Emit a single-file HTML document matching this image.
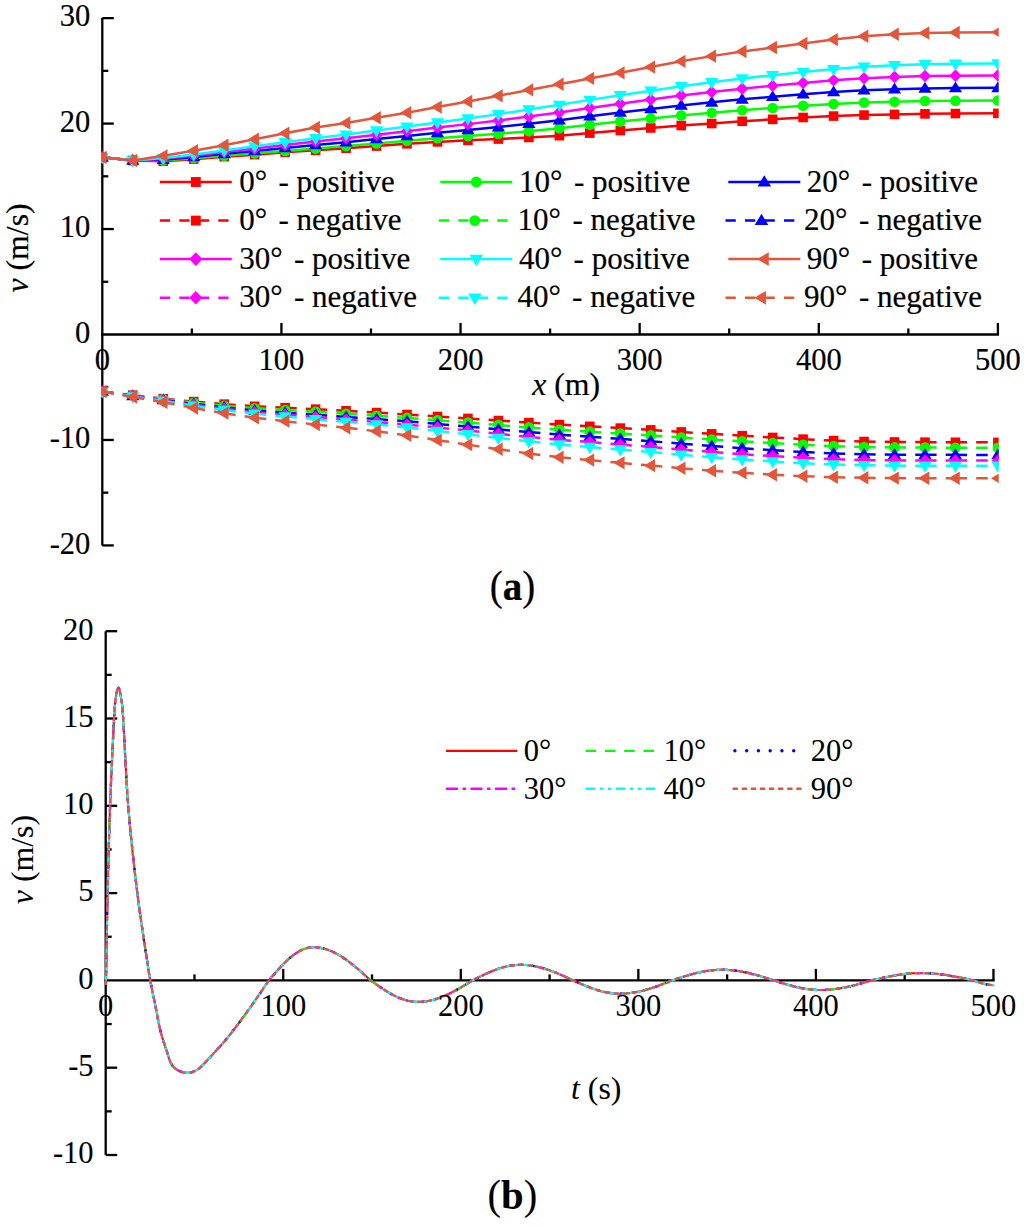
<!DOCTYPE html><html><head><meta charset="utf-8"><title>v plots</title><style>html,body{margin:0;padding:0;background:#fff;width:1024px;height:1229px;overflow:hidden}svg{display:block}text{stroke:#000;stroke-width:0.2px}text.b{stroke-width:0.05px}</style></head><body><svg width="1024" height="1229" viewBox="0 0 1024 1229" font-family='"Liberation Serif", serif'>
<rect width="1024" height="1229" fill="#fff"/>
<defs><clipPath id="ca"><rect x="101.10" y="0" width="897.60" height="1229"/></clipPath><clipPath id="cb"><rect x="104.50" y="0" width="889.95" height="1229"/></clipPath></defs>
<line x1="102.30" y1="18.07" x2="102.30" y2="545.47" stroke="#000" stroke-width="2.3" />
<line x1="101.15" y1="334.50" x2="999.05" y2="334.50" stroke="#000" stroke-width="2.3" />
<line x1="102.30" y1="545.42" x2="113.80" y2="545.42" stroke="#000" stroke-width="2.3" />
<line x1="102.30" y1="492.69" x2="108.30" y2="492.69" stroke="#000" stroke-width="2.3" />
<line x1="102.30" y1="439.96" x2="113.80" y2="439.96" stroke="#000" stroke-width="2.3" />
<line x1="102.30" y1="387.23" x2="108.30" y2="387.23" stroke="#000" stroke-width="2.3" />
<line x1="102.30" y1="281.77" x2="108.30" y2="281.77" stroke="#000" stroke-width="2.3" />
<line x1="102.30" y1="229.04" x2="113.80" y2="229.04" stroke="#000" stroke-width="2.3" />
<line x1="102.30" y1="176.31" x2="108.30" y2="176.31" stroke="#000" stroke-width="2.3" />
<line x1="102.30" y1="123.58" x2="113.80" y2="123.58" stroke="#000" stroke-width="2.3" />
<line x1="102.30" y1="70.85" x2="108.30" y2="70.85" stroke="#000" stroke-width="2.3" />
<line x1="102.30" y1="18.12" x2="113.80" y2="18.12" stroke="#000" stroke-width="2.3" />
<line x1="191.86" y1="334.50" x2="191.86" y2="328.50" stroke="#000" stroke-width="2.3" />
<line x1="281.42" y1="334.50" x2="281.42" y2="323.00" stroke="#000" stroke-width="2.3" />
<line x1="370.98" y1="334.50" x2="370.98" y2="328.50" stroke="#000" stroke-width="2.3" />
<line x1="460.54" y1="334.50" x2="460.54" y2="323.00" stroke="#000" stroke-width="2.3" />
<line x1="550.10" y1="334.50" x2="550.10" y2="328.50" stroke="#000" stroke-width="2.3" />
<line x1="639.66" y1="334.50" x2="639.66" y2="323.00" stroke="#000" stroke-width="2.3" />
<line x1="729.22" y1="334.50" x2="729.22" y2="328.50" stroke="#000" stroke-width="2.3" />
<line x1="818.78" y1="334.50" x2="818.78" y2="323.00" stroke="#000" stroke-width="2.3" />
<line x1="908.34" y1="334.50" x2="908.34" y2="328.50" stroke="#000" stroke-width="2.3" />
<line x1="997.90" y1="334.50" x2="997.90" y2="323.00" stroke="#000" stroke-width="2.3" />
<g clip-path="url(#ca)">
<polyline points="102.30,157.33 132.77,160.49 163.24,161.26 193.71,159.13 224.18,156.66 254.65,154.64 285.12,152.33 315.59,150.34 346.06,148.21 376.53,146.06 407.00,143.82 437.47,141.89 467.94,140.36 498.41,139.03 528.88,137.47 559.35,135.64 589.82,133.11 620.29,130.54 650.76,127.95 681.23,125.52 711.70,123.54 742.17,121.27 772.64,119.33 803.11,117.50 833.58,116.07 864.05,115.08 894.52,114.39 924.99,113.87 955.46,113.56 997.90,113.35" fill="none" stroke="#ff0000" stroke-width="2.5" stroke-linejoin="round"/>
<rect x="97.50" y="152.53" width="9.60" height="9.60" fill="#ff0000"/>
<rect x="127.97" y="155.69" width="9.60" height="9.60" fill="#ff0000"/>
<rect x="158.44" y="156.46" width="9.60" height="9.60" fill="#ff0000"/>
<rect x="188.91" y="154.33" width="9.60" height="9.60" fill="#ff0000"/>
<rect x="219.38" y="151.86" width="9.60" height="9.60" fill="#ff0000"/>
<rect x="249.85" y="149.84" width="9.60" height="9.60" fill="#ff0000"/>
<rect x="280.32" y="147.53" width="9.60" height="9.60" fill="#ff0000"/>
<rect x="310.79" y="145.54" width="9.60" height="9.60" fill="#ff0000"/>
<rect x="341.26" y="143.41" width="9.60" height="9.60" fill="#ff0000"/>
<rect x="371.73" y="141.26" width="9.60" height="9.60" fill="#ff0000"/>
<rect x="402.20" y="139.02" width="9.60" height="9.60" fill="#ff0000"/>
<rect x="432.67" y="137.09" width="9.60" height="9.60" fill="#ff0000"/>
<rect x="463.14" y="135.56" width="9.60" height="9.60" fill="#ff0000"/>
<rect x="493.61" y="134.23" width="9.60" height="9.60" fill="#ff0000"/>
<rect x="524.08" y="132.67" width="9.60" height="9.60" fill="#ff0000"/>
<rect x="554.55" y="130.84" width="9.60" height="9.60" fill="#ff0000"/>
<rect x="585.02" y="128.31" width="9.60" height="9.60" fill="#ff0000"/>
<rect x="615.49" y="125.74" width="9.60" height="9.60" fill="#ff0000"/>
<rect x="645.96" y="123.15" width="9.60" height="9.60" fill="#ff0000"/>
<rect x="676.43" y="120.72" width="9.60" height="9.60" fill="#ff0000"/>
<rect x="706.90" y="118.74" width="9.60" height="9.60" fill="#ff0000"/>
<rect x="737.37" y="116.47" width="9.60" height="9.60" fill="#ff0000"/>
<rect x="767.84" y="114.53" width="9.60" height="9.60" fill="#ff0000"/>
<rect x="798.31" y="112.70" width="9.60" height="9.60" fill="#ff0000"/>
<rect x="828.78" y="111.27" width="9.60" height="9.60" fill="#ff0000"/>
<rect x="859.25" y="110.28" width="9.60" height="9.60" fill="#ff0000"/>
<rect x="889.72" y="109.59" width="9.60" height="9.60" fill="#ff0000"/>
<rect x="920.19" y="109.07" width="9.60" height="9.60" fill="#ff0000"/>
<rect x="950.66" y="108.76" width="9.60" height="9.60" fill="#ff0000"/>
<rect x="993.10" y="108.55" width="9.60" height="9.60" fill="#ff0000"/>
<line x1="102.30" y1="391.55" x2="132.77" y2="395.14" stroke="#ff0000" stroke-width="2.5" stroke-dasharray="11.6 9.1"/>
<line x1="132.77" y1="395.14" x2="163.24" y2="398.72" stroke="#ff0000" stroke-width="2.5" stroke-dasharray="11.6 9.1"/>
<line x1="163.24" y1="398.72" x2="193.71" y2="401.56" stroke="#ff0000" stroke-width="2.5" stroke-dasharray="11.6 9.1"/>
<line x1="193.71" y1="401.56" x2="224.18" y2="404.14" stroke="#ff0000" stroke-width="2.5" stroke-dasharray="11.6 9.1"/>
<line x1="224.18" y1="404.14" x2="254.65" y2="406.31" stroke="#ff0000" stroke-width="2.5" stroke-dasharray="11.6 9.1"/>
<line x1="254.65" y1="406.31" x2="285.12" y2="407.68" stroke="#ff0000" stroke-width="2.5" stroke-dasharray="11.6 9.1"/>
<line x1="285.12" y1="407.68" x2="315.59" y2="409.16" stroke="#ff0000" stroke-width="2.5" stroke-dasharray="11.6 9.1"/>
<line x1="315.59" y1="409.16" x2="346.06" y2="410.74" stroke="#ff0000" stroke-width="2.5" stroke-dasharray="11.6 9.1"/>
<line x1="346.06" y1="410.74" x2="376.53" y2="412.57" stroke="#ff0000" stroke-width="2.5" stroke-dasharray="11.6 9.1"/>
<line x1="376.53" y1="412.57" x2="407.00" y2="414.50" stroke="#ff0000" stroke-width="2.5" stroke-dasharray="11.6 9.1"/>
<line x1="407.00" y1="414.50" x2="437.47" y2="416.51" stroke="#ff0000" stroke-width="2.5" stroke-dasharray="11.6 9.1"/>
<line x1="437.47" y1="416.51" x2="467.94" y2="418.43" stroke="#ff0000" stroke-width="2.5" stroke-dasharray="11.6 9.1"/>
<line x1="467.94" y1="418.43" x2="498.41" y2="420.55" stroke="#ff0000" stroke-width="2.5" stroke-dasharray="11.6 9.1"/>
<line x1="498.41" y1="420.55" x2="528.88" y2="422.61" stroke="#ff0000" stroke-width="2.5" stroke-dasharray="11.6 9.1"/>
<line x1="528.88" y1="422.61" x2="559.35" y2="424.62" stroke="#ff0000" stroke-width="2.5" stroke-dasharray="11.6 9.1"/>
<line x1="559.35" y1="424.62" x2="589.82" y2="426.36" stroke="#ff0000" stroke-width="2.5" stroke-dasharray="11.6 9.1"/>
<line x1="589.82" y1="426.36" x2="620.29" y2="428.12" stroke="#ff0000" stroke-width="2.5" stroke-dasharray="11.6 9.1"/>
<line x1="620.29" y1="428.12" x2="650.76" y2="429.89" stroke="#ff0000" stroke-width="2.5" stroke-dasharray="11.6 9.1"/>
<line x1="650.76" y1="429.89" x2="681.23" y2="431.94" stroke="#ff0000" stroke-width="2.5" stroke-dasharray="11.6 9.1"/>
<line x1="681.23" y1="431.94" x2="711.70" y2="433.87" stroke="#ff0000" stroke-width="2.5" stroke-dasharray="11.6 9.1"/>
<line x1="711.70" y1="433.87" x2="742.17" y2="435.67" stroke="#ff0000" stroke-width="2.5" stroke-dasharray="11.6 9.1"/>
<line x1="742.17" y1="435.67" x2="772.64" y2="437.45" stroke="#ff0000" stroke-width="2.5" stroke-dasharray="11.6 9.1"/>
<line x1="772.64" y1="437.45" x2="803.11" y2="439.15" stroke="#ff0000" stroke-width="2.5" stroke-dasharray="11.6 9.1"/>
<line x1="803.11" y1="439.15" x2="833.58" y2="440.61" stroke="#ff0000" stroke-width="2.5" stroke-dasharray="11.6 9.1"/>
<line x1="833.58" y1="440.61" x2="864.05" y2="441.54" stroke="#ff0000" stroke-width="2.5" stroke-dasharray="11.6 9.1"/>
<line x1="864.05" y1="441.54" x2="894.52" y2="441.96" stroke="#ff0000" stroke-width="2.5" stroke-dasharray="11.6 9.1"/>
<line x1="894.52" y1="441.96" x2="924.99" y2="442.17" stroke="#ff0000" stroke-width="2.5" stroke-dasharray="11.6 9.1"/>
<line x1="924.99" y1="442.17" x2="955.46" y2="442.28" stroke="#ff0000" stroke-width="2.5" stroke-dasharray="11.6 9.1"/>
<line x1="955.46" y1="442.28" x2="997.90" y2="442.39" stroke="#ff0000" stroke-width="2.5" stroke-dasharray="11.6 9.1"/>
<rect x="97.50" y="386.75" width="9.60" height="9.60" fill="#ff0000"/>
<rect x="127.97" y="390.34" width="9.60" height="9.60" fill="#ff0000"/>
<rect x="158.44" y="393.92" width="9.60" height="9.60" fill="#ff0000"/>
<rect x="188.91" y="396.76" width="9.60" height="9.60" fill="#ff0000"/>
<rect x="219.38" y="399.34" width="9.60" height="9.60" fill="#ff0000"/>
<rect x="249.85" y="401.51" width="9.60" height="9.60" fill="#ff0000"/>
<rect x="280.32" y="402.88" width="9.60" height="9.60" fill="#ff0000"/>
<rect x="310.79" y="404.36" width="9.60" height="9.60" fill="#ff0000"/>
<rect x="341.26" y="405.94" width="9.60" height="9.60" fill="#ff0000"/>
<rect x="371.73" y="407.77" width="9.60" height="9.60" fill="#ff0000"/>
<rect x="402.20" y="409.70" width="9.60" height="9.60" fill="#ff0000"/>
<rect x="432.67" y="411.71" width="9.60" height="9.60" fill="#ff0000"/>
<rect x="463.14" y="413.63" width="9.60" height="9.60" fill="#ff0000"/>
<rect x="493.61" y="415.75" width="9.60" height="9.60" fill="#ff0000"/>
<rect x="524.08" y="417.81" width="9.60" height="9.60" fill="#ff0000"/>
<rect x="554.55" y="419.82" width="9.60" height="9.60" fill="#ff0000"/>
<rect x="585.02" y="421.56" width="9.60" height="9.60" fill="#ff0000"/>
<rect x="615.49" y="423.32" width="9.60" height="9.60" fill="#ff0000"/>
<rect x="645.96" y="425.09" width="9.60" height="9.60" fill="#ff0000"/>
<rect x="676.43" y="427.14" width="9.60" height="9.60" fill="#ff0000"/>
<rect x="706.90" y="429.07" width="9.60" height="9.60" fill="#ff0000"/>
<rect x="737.37" y="430.87" width="9.60" height="9.60" fill="#ff0000"/>
<rect x="767.84" y="432.65" width="9.60" height="9.60" fill="#ff0000"/>
<rect x="798.31" y="434.35" width="9.60" height="9.60" fill="#ff0000"/>
<rect x="828.78" y="435.81" width="9.60" height="9.60" fill="#ff0000"/>
<rect x="859.25" y="436.74" width="9.60" height="9.60" fill="#ff0000"/>
<rect x="889.72" y="437.16" width="9.60" height="9.60" fill="#ff0000"/>
<rect x="920.19" y="437.37" width="9.60" height="9.60" fill="#ff0000"/>
<rect x="950.66" y="437.48" width="9.60" height="9.60" fill="#ff0000"/>
<rect x="993.10" y="437.59" width="9.60" height="9.60" fill="#ff0000"/>
<polyline points="102.30,157.33 132.77,160.49 163.24,160.55 193.71,158.28 224.18,155.64 254.65,153.35 285.12,150.95 315.59,148.62 346.06,146.11 376.53,143.46 407.00,140.78 437.47,138.27 467.94,136.11 498.41,133.82 528.88,131.15 559.35,128.28 589.82,124.80 620.29,121.57 650.76,118.41 681.23,115.39 711.70,112.87 742.17,110.21 772.64,107.96 803.11,105.77 833.58,103.95 864.05,102.59 894.52,101.68 924.99,101.06 955.46,100.71 997.90,100.48" fill="none" stroke="#00ff00" stroke-width="2.5" stroke-linejoin="round"/>
<circle cx="102.30" cy="157.33" r="5.30" fill="#00ff00"/>
<circle cx="132.77" cy="160.49" r="5.30" fill="#00ff00"/>
<circle cx="163.24" cy="160.55" r="5.30" fill="#00ff00"/>
<circle cx="193.71" cy="158.28" r="5.30" fill="#00ff00"/>
<circle cx="224.18" cy="155.64" r="5.30" fill="#00ff00"/>
<circle cx="254.65" cy="153.35" r="5.30" fill="#00ff00"/>
<circle cx="285.12" cy="150.95" r="5.30" fill="#00ff00"/>
<circle cx="315.59" cy="148.62" r="5.30" fill="#00ff00"/>
<circle cx="346.06" cy="146.11" r="5.30" fill="#00ff00"/>
<circle cx="376.53" cy="143.46" r="5.30" fill="#00ff00"/>
<circle cx="407.00" cy="140.78" r="5.30" fill="#00ff00"/>
<circle cx="437.47" cy="138.27" r="5.30" fill="#00ff00"/>
<circle cx="467.94" cy="136.11" r="5.30" fill="#00ff00"/>
<circle cx="498.41" cy="133.82" r="5.30" fill="#00ff00"/>
<circle cx="528.88" cy="131.15" r="5.30" fill="#00ff00"/>
<circle cx="559.35" cy="128.28" r="5.30" fill="#00ff00"/>
<circle cx="589.82" cy="124.80" r="5.30" fill="#00ff00"/>
<circle cx="620.29" cy="121.57" r="5.30" fill="#00ff00"/>
<circle cx="650.76" cy="118.41" r="5.30" fill="#00ff00"/>
<circle cx="681.23" cy="115.39" r="5.30" fill="#00ff00"/>
<circle cx="711.70" cy="112.87" r="5.30" fill="#00ff00"/>
<circle cx="742.17" cy="110.21" r="5.30" fill="#00ff00"/>
<circle cx="772.64" cy="107.96" r="5.30" fill="#00ff00"/>
<circle cx="803.11" cy="105.77" r="5.30" fill="#00ff00"/>
<circle cx="833.58" cy="103.95" r="5.30" fill="#00ff00"/>
<circle cx="864.05" cy="102.59" r="5.30" fill="#00ff00"/>
<circle cx="894.52" cy="101.68" r="5.30" fill="#00ff00"/>
<circle cx="924.99" cy="101.06" r="5.30" fill="#00ff00"/>
<circle cx="955.46" cy="100.71" r="5.30" fill="#00ff00"/>
<circle cx="997.90" cy="100.48" r="5.30" fill="#00ff00"/>
<line x1="102.30" y1="391.55" x2="132.77" y2="395.47" stroke="#00ff00" stroke-width="2.5" stroke-dasharray="11.6 9.1"/>
<line x1="132.77" y1="395.47" x2="163.24" y2="399.33" stroke="#00ff00" stroke-width="2.5" stroke-dasharray="11.6 9.1"/>
<line x1="163.24" y1="399.33" x2="193.71" y2="402.69" stroke="#00ff00" stroke-width="2.5" stroke-dasharray="11.6 9.1"/>
<line x1="193.71" y1="402.69" x2="224.18" y2="405.73" stroke="#00ff00" stroke-width="2.5" stroke-dasharray="11.6 9.1"/>
<line x1="224.18" y1="405.73" x2="254.65" y2="408.33" stroke="#00ff00" stroke-width="2.5" stroke-dasharray="11.6 9.1"/>
<line x1="254.65" y1="408.33" x2="285.12" y2="410.05" stroke="#00ff00" stroke-width="2.5" stroke-dasharray="11.6 9.1"/>
<line x1="285.12" y1="410.05" x2="315.59" y2="411.84" stroke="#00ff00" stroke-width="2.5" stroke-dasharray="11.6 9.1"/>
<line x1="315.59" y1="411.84" x2="346.06" y2="413.72" stroke="#00ff00" stroke-width="2.5" stroke-dasharray="11.6 9.1"/>
<line x1="346.06" y1="413.72" x2="376.53" y2="415.75" stroke="#00ff00" stroke-width="2.5" stroke-dasharray="11.6 9.1"/>
<line x1="376.53" y1="415.75" x2="407.00" y2="417.92" stroke="#00ff00" stroke-width="2.5" stroke-dasharray="11.6 9.1"/>
<line x1="407.00" y1="417.92" x2="437.47" y2="420.27" stroke="#00ff00" stroke-width="2.5" stroke-dasharray="11.6 9.1"/>
<line x1="437.47" y1="420.27" x2="467.94" y2="422.52" stroke="#00ff00" stroke-width="2.5" stroke-dasharray="11.6 9.1"/>
<line x1="467.94" y1="422.52" x2="498.41" y2="424.98" stroke="#00ff00" stroke-width="2.5" stroke-dasharray="11.6 9.1"/>
<line x1="498.41" y1="424.98" x2="528.88" y2="427.42" stroke="#00ff00" stroke-width="2.5" stroke-dasharray="11.6 9.1"/>
<line x1="528.88" y1="427.42" x2="559.35" y2="429.72" stroke="#00ff00" stroke-width="2.5" stroke-dasharray="11.6 9.1"/>
<line x1="559.35" y1="429.72" x2="589.82" y2="431.66" stroke="#00ff00" stroke-width="2.5" stroke-dasharray="11.6 9.1"/>
<line x1="589.82" y1="431.66" x2="620.29" y2="433.54" stroke="#00ff00" stroke-width="2.5" stroke-dasharray="11.6 9.1"/>
<line x1="620.29" y1="433.54" x2="650.76" y2="435.41" stroke="#00ff00" stroke-width="2.5" stroke-dasharray="11.6 9.1"/>
<line x1="650.76" y1="435.41" x2="681.23" y2="437.49" stroke="#00ff00" stroke-width="2.5" stroke-dasharray="11.6 9.1"/>
<line x1="681.23" y1="437.49" x2="711.70" y2="439.47" stroke="#00ff00" stroke-width="2.5" stroke-dasharray="11.6 9.1"/>
<line x1="711.70" y1="439.47" x2="742.17" y2="441.33" stroke="#00ff00" stroke-width="2.5" stroke-dasharray="11.6 9.1"/>
<line x1="742.17" y1="441.33" x2="772.64" y2="443.11" stroke="#00ff00" stroke-width="2.5" stroke-dasharray="11.6 9.1"/>
<line x1="772.64" y1="443.11" x2="803.11" y2="444.76" stroke="#00ff00" stroke-width="2.5" stroke-dasharray="11.6 9.1"/>
<line x1="803.11" y1="444.76" x2="833.58" y2="446.13" stroke="#00ff00" stroke-width="2.5" stroke-dasharray="11.6 9.1"/>
<line x1="833.58" y1="446.13" x2="864.05" y2="447.00" stroke="#00ff00" stroke-width="2.5" stroke-dasharray="11.6 9.1"/>
<line x1="864.05" y1="447.00" x2="894.52" y2="447.39" stroke="#00ff00" stroke-width="2.5" stroke-dasharray="11.6 9.1"/>
<line x1="894.52" y1="447.39" x2="924.99" y2="447.59" stroke="#00ff00" stroke-width="2.5" stroke-dasharray="11.6 9.1"/>
<line x1="924.99" y1="447.59" x2="955.46" y2="447.68" stroke="#00ff00" stroke-width="2.5" stroke-dasharray="11.6 9.1"/>
<line x1="955.46" y1="447.68" x2="997.90" y2="447.76" stroke="#00ff00" stroke-width="2.5" stroke-dasharray="11.6 9.1"/>
<circle cx="102.30" cy="391.55" r="5.30" fill="#00ff00"/>
<circle cx="132.77" cy="395.47" r="5.30" fill="#00ff00"/>
<circle cx="163.24" cy="399.33" r="5.30" fill="#00ff00"/>
<circle cx="193.71" cy="402.69" r="5.30" fill="#00ff00"/>
<circle cx="224.18" cy="405.73" r="5.30" fill="#00ff00"/>
<circle cx="254.65" cy="408.33" r="5.30" fill="#00ff00"/>
<circle cx="285.12" cy="410.05" r="5.30" fill="#00ff00"/>
<circle cx="315.59" cy="411.84" r="5.30" fill="#00ff00"/>
<circle cx="346.06" cy="413.72" r="5.30" fill="#00ff00"/>
<circle cx="376.53" cy="415.75" r="5.30" fill="#00ff00"/>
<circle cx="407.00" cy="417.92" r="5.30" fill="#00ff00"/>
<circle cx="437.47" cy="420.27" r="5.30" fill="#00ff00"/>
<circle cx="467.94" cy="422.52" r="5.30" fill="#00ff00"/>
<circle cx="498.41" cy="424.98" r="5.30" fill="#00ff00"/>
<circle cx="528.88" cy="427.42" r="5.30" fill="#00ff00"/>
<circle cx="559.35" cy="429.72" r="5.30" fill="#00ff00"/>
<circle cx="589.82" cy="431.66" r="5.30" fill="#00ff00"/>
<circle cx="620.29" cy="433.54" r="5.30" fill="#00ff00"/>
<circle cx="650.76" cy="435.41" r="5.30" fill="#00ff00"/>
<circle cx="681.23" cy="437.49" r="5.30" fill="#00ff00"/>
<circle cx="711.70" cy="439.47" r="5.30" fill="#00ff00"/>
<circle cx="742.17" cy="441.33" r="5.30" fill="#00ff00"/>
<circle cx="772.64" cy="443.11" r="5.30" fill="#00ff00"/>
<circle cx="803.11" cy="444.76" r="5.30" fill="#00ff00"/>
<circle cx="833.58" cy="446.13" r="5.30" fill="#00ff00"/>
<circle cx="864.05" cy="447.00" r="5.30" fill="#00ff00"/>
<circle cx="894.52" cy="447.39" r="5.30" fill="#00ff00"/>
<circle cx="924.99" cy="447.59" r="5.30" fill="#00ff00"/>
<circle cx="955.46" cy="447.68" r="5.30" fill="#00ff00"/>
<circle cx="997.90" cy="447.76" r="5.30" fill="#00ff00"/>
<polyline points="102.30,157.33 132.77,160.49 163.24,159.70 193.71,156.98 224.18,153.86 254.65,150.96 285.12,147.98 315.59,145.07 346.06,142.18 376.53,139.04 407.00,135.92 437.47,132.85 467.94,130.06 498.41,127.09 528.88,123.74 559.35,120.27 589.82,116.28 620.29,112.57 650.76,108.93 681.23,105.39 711.70,102.36 742.17,99.33 772.64,96.77 803.11,94.24 833.58,92.03 864.05,90.31 894.52,89.19 924.99,88.45 955.46,88.07 997.90,87.83" fill="none" stroke="#0000ff" stroke-width="2.5" stroke-linejoin="round"/>
<polygon points="102.30,150.73 108.90,161.63 95.70,161.63" fill="#0000ff"/>
<polygon points="132.77,153.89 139.37,164.79 126.17,164.79" fill="#0000ff"/>
<polygon points="163.24,153.10 169.84,164.00 156.64,164.00" fill="#0000ff"/>
<polygon points="193.71,150.38 200.31,161.28 187.11,161.28" fill="#0000ff"/>
<polygon points="224.18,147.26 230.78,158.16 217.58,158.16" fill="#0000ff"/>
<polygon points="254.65,144.36 261.25,155.26 248.05,155.26" fill="#0000ff"/>
<polygon points="285.12,141.38 291.72,152.28 278.52,152.28" fill="#0000ff"/>
<polygon points="315.59,138.47 322.19,149.37 308.99,149.37" fill="#0000ff"/>
<polygon points="346.06,135.58 352.66,146.48 339.46,146.48" fill="#0000ff"/>
<polygon points="376.53,132.44 383.13,143.34 369.93,143.34" fill="#0000ff"/>
<polygon points="407.00,129.32 413.60,140.22 400.40,140.22" fill="#0000ff"/>
<polygon points="437.47,126.25 444.07,137.15 430.87,137.15" fill="#0000ff"/>
<polygon points="467.94,123.46 474.54,134.36 461.34,134.36" fill="#0000ff"/>
<polygon points="498.41,120.49 505.01,131.39 491.81,131.39" fill="#0000ff"/>
<polygon points="528.88,117.14 535.48,128.04 522.28,128.04" fill="#0000ff"/>
<polygon points="559.35,113.67 565.95,124.57 552.75,124.57" fill="#0000ff"/>
<polygon points="589.82,109.68 596.42,120.58 583.22,120.58" fill="#0000ff"/>
<polygon points="620.29,105.97 626.89,116.87 613.69,116.87" fill="#0000ff"/>
<polygon points="650.76,102.33 657.36,113.23 644.16,113.23" fill="#0000ff"/>
<polygon points="681.23,98.79 687.83,109.69 674.63,109.69" fill="#0000ff"/>
<polygon points="711.70,95.76 718.30,106.66 705.10,106.66" fill="#0000ff"/>
<polygon points="742.17,92.73 748.77,103.63 735.57,103.63" fill="#0000ff"/>
<polygon points="772.64,90.17 779.24,101.07 766.04,101.07" fill="#0000ff"/>
<polygon points="803.11,87.64 809.71,98.54 796.51,98.54" fill="#0000ff"/>
<polygon points="833.58,85.43 840.18,96.33 826.98,96.33" fill="#0000ff"/>
<polygon points="864.05,83.71 870.65,94.61 857.45,94.61" fill="#0000ff"/>
<polygon points="894.52,82.59 901.12,93.49 887.92,93.49" fill="#0000ff"/>
<polygon points="924.99,81.85 931.59,92.75 918.39,92.75" fill="#0000ff"/>
<polygon points="955.46,81.47 962.06,92.37 948.86,92.37" fill="#0000ff"/>
<polygon points="997.90,81.23 1004.50,92.13 991.30,92.13" fill="#0000ff"/>
<line x1="102.30" y1="391.55" x2="132.77" y2="395.83" stroke="#0000ff" stroke-width="2.5" stroke-dasharray="11.6 9.1"/>
<line x1="132.77" y1="395.83" x2="163.24" y2="399.99" stroke="#0000ff" stroke-width="2.5" stroke-dasharray="11.6 9.1"/>
<line x1="163.24" y1="399.99" x2="193.71" y2="403.91" stroke="#0000ff" stroke-width="2.5" stroke-dasharray="11.6 9.1"/>
<line x1="193.71" y1="403.91" x2="224.18" y2="407.44" stroke="#0000ff" stroke-width="2.5" stroke-dasharray="11.6 9.1"/>
<line x1="224.18" y1="407.44" x2="254.65" y2="410.51" stroke="#0000ff" stroke-width="2.5" stroke-dasharray="11.6 9.1"/>
<line x1="254.65" y1="410.51" x2="285.12" y2="412.62" stroke="#0000ff" stroke-width="2.5" stroke-dasharray="11.6 9.1"/>
<line x1="285.12" y1="412.62" x2="315.59" y2="414.75" stroke="#0000ff" stroke-width="2.5" stroke-dasharray="11.6 9.1"/>
<line x1="315.59" y1="414.75" x2="346.06" y2="416.95" stroke="#0000ff" stroke-width="2.5" stroke-dasharray="11.6 9.1"/>
<line x1="346.06" y1="416.95" x2="376.53" y2="419.05" stroke="#0000ff" stroke-width="2.5" stroke-dasharray="11.6 9.1"/>
<line x1="376.53" y1="419.05" x2="407.00" y2="421.35" stroke="#0000ff" stroke-width="2.5" stroke-dasharray="11.6 9.1"/>
<line x1="407.00" y1="421.35" x2="437.47" y2="423.93" stroke="#0000ff" stroke-width="2.5" stroke-dasharray="11.6 9.1"/>
<line x1="437.47" y1="423.93" x2="467.94" y2="426.50" stroke="#0000ff" stroke-width="2.5" stroke-dasharray="11.6 9.1"/>
<line x1="467.94" y1="426.50" x2="498.41" y2="429.35" stroke="#0000ff" stroke-width="2.5" stroke-dasharray="11.6 9.1"/>
<line x1="498.41" y1="429.35" x2="528.88" y2="432.09" stroke="#0000ff" stroke-width="2.5" stroke-dasharray="11.6 9.1"/>
<line x1="528.88" y1="432.09" x2="559.35" y2="434.61" stroke="#0000ff" stroke-width="2.5" stroke-dasharray="11.6 9.1"/>
<line x1="559.35" y1="434.61" x2="589.82" y2="436.65" stroke="#0000ff" stroke-width="2.5" stroke-dasharray="11.6 9.1"/>
<line x1="589.82" y1="436.65" x2="620.29" y2="438.86" stroke="#0000ff" stroke-width="2.5" stroke-dasharray="11.6 9.1"/>
<line x1="620.29" y1="438.86" x2="650.76" y2="441.19" stroke="#0000ff" stroke-width="2.5" stroke-dasharray="11.6 9.1"/>
<line x1="650.76" y1="441.19" x2="681.23" y2="443.65" stroke="#0000ff" stroke-width="2.5" stroke-dasharray="11.6 9.1"/>
<line x1="681.23" y1="443.65" x2="711.70" y2="446.01" stroke="#0000ff" stroke-width="2.5" stroke-dasharray="11.6 9.1"/>
<line x1="711.70" y1="446.01" x2="742.17" y2="448.20" stroke="#0000ff" stroke-width="2.5" stroke-dasharray="11.6 9.1"/>
<line x1="742.17" y1="448.20" x2="772.64" y2="450.17" stroke="#0000ff" stroke-width="2.5" stroke-dasharray="11.6 9.1"/>
<line x1="772.64" y1="450.17" x2="803.11" y2="451.95" stroke="#0000ff" stroke-width="2.5" stroke-dasharray="11.6 9.1"/>
<line x1="803.11" y1="451.95" x2="833.58" y2="453.38" stroke="#0000ff" stroke-width="2.5" stroke-dasharray="11.6 9.1"/>
<line x1="833.58" y1="453.38" x2="864.05" y2="454.25" stroke="#0000ff" stroke-width="2.5" stroke-dasharray="11.6 9.1"/>
<line x1="864.05" y1="454.25" x2="894.52" y2="454.63" stroke="#0000ff" stroke-width="2.5" stroke-dasharray="11.6 9.1"/>
<line x1="894.52" y1="454.63" x2="924.99" y2="454.80" stroke="#0000ff" stroke-width="2.5" stroke-dasharray="11.6 9.1"/>
<line x1="924.99" y1="454.80" x2="955.46" y2="454.87" stroke="#0000ff" stroke-width="2.5" stroke-dasharray="11.6 9.1"/>
<line x1="955.46" y1="454.87" x2="997.90" y2="454.94" stroke="#0000ff" stroke-width="2.5" stroke-dasharray="11.6 9.1"/>
<polygon points="102.30,384.95 108.90,395.85 95.70,395.85" fill="#0000ff"/>
<polygon points="132.77,389.23 139.37,400.13 126.17,400.13" fill="#0000ff"/>
<polygon points="163.24,393.39 169.84,404.29 156.64,404.29" fill="#0000ff"/>
<polygon points="193.71,397.31 200.31,408.21 187.11,408.21" fill="#0000ff"/>
<polygon points="224.18,400.84 230.78,411.74 217.58,411.74" fill="#0000ff"/>
<polygon points="254.65,403.91 261.25,414.81 248.05,414.81" fill="#0000ff"/>
<polygon points="285.12,406.02 291.72,416.92 278.52,416.92" fill="#0000ff"/>
<polygon points="315.59,408.15 322.19,419.05 308.99,419.05" fill="#0000ff"/>
<polygon points="346.06,410.35 352.66,421.25 339.46,421.25" fill="#0000ff"/>
<polygon points="376.53,412.45 383.13,423.35 369.93,423.35" fill="#0000ff"/>
<polygon points="407.00,414.75 413.60,425.65 400.40,425.65" fill="#0000ff"/>
<polygon points="437.47,417.33 444.07,428.23 430.87,428.23" fill="#0000ff"/>
<polygon points="467.94,419.90 474.54,430.80 461.34,430.80" fill="#0000ff"/>
<polygon points="498.41,422.75 505.01,433.65 491.81,433.65" fill="#0000ff"/>
<polygon points="528.88,425.49 535.48,436.39 522.28,436.39" fill="#0000ff"/>
<polygon points="559.35,428.01 565.95,438.91 552.75,438.91" fill="#0000ff"/>
<polygon points="589.82,430.05 596.42,440.95 583.22,440.95" fill="#0000ff"/>
<polygon points="620.29,432.26 626.89,443.16 613.69,443.16" fill="#0000ff"/>
<polygon points="650.76,434.59 657.36,445.49 644.16,445.49" fill="#0000ff"/>
<polygon points="681.23,437.05 687.83,447.95 674.63,447.95" fill="#0000ff"/>
<polygon points="711.70,439.41 718.30,450.31 705.10,450.31" fill="#0000ff"/>
<polygon points="742.17,441.60 748.77,452.50 735.57,452.50" fill="#0000ff"/>
<polygon points="772.64,443.57 779.24,454.47 766.04,454.47" fill="#0000ff"/>
<polygon points="803.11,445.35 809.71,456.25 796.51,456.25" fill="#0000ff"/>
<polygon points="833.58,446.78 840.18,457.68 826.98,457.68" fill="#0000ff"/>
<polygon points="864.05,447.65 870.65,458.55 857.45,458.55" fill="#0000ff"/>
<polygon points="894.52,448.03 901.12,458.93 887.92,458.93" fill="#0000ff"/>
<polygon points="924.99,448.20 931.59,459.10 918.39,459.10" fill="#0000ff"/>
<polygon points="955.46,448.27 962.06,459.17 948.86,459.17" fill="#0000ff"/>
<polygon points="997.90,448.34 1004.50,459.24 991.30,459.24" fill="#0000ff"/>
<polyline points="102.30,157.33 132.77,160.49 163.24,158.87 193.71,155.71 224.18,152.12 254.65,148.61 285.12,145.06 315.59,141.57 346.06,138.31 376.53,134.69 407.00,131.15 437.47,127.52 467.94,124.12 498.41,120.47 528.88,116.45 559.35,112.40 589.82,107.90 620.29,103.73 650.76,99.60 681.23,95.56 711.70,92.03 742.17,88.64 772.64,85.76 803.11,82.89 833.58,80.31 864.05,78.23 894.52,76.90 924.99,76.05 955.46,75.64 997.90,75.39" fill="none" stroke="#ff00ff" stroke-width="2.5" stroke-linejoin="round"/>
<polygon points="102.30,151.03 108.40,157.33 102.30,163.63 96.20,157.33" fill="#ff00ff"/>
<polygon points="132.77,154.19 138.87,160.49 132.77,166.79 126.67,160.49" fill="#ff00ff"/>
<polygon points="163.24,152.57 169.34,158.87 163.24,165.17 157.14,158.87" fill="#ff00ff"/>
<polygon points="193.71,149.41 199.81,155.71 193.71,162.01 187.61,155.71" fill="#ff00ff"/>
<polygon points="224.18,145.82 230.28,152.12 224.18,158.42 218.08,152.12" fill="#ff00ff"/>
<polygon points="254.65,142.31 260.75,148.61 254.65,154.91 248.55,148.61" fill="#ff00ff"/>
<polygon points="285.12,138.76 291.22,145.06 285.12,151.36 279.02,145.06" fill="#ff00ff"/>
<polygon points="315.59,135.27 321.69,141.57 315.59,147.87 309.49,141.57" fill="#ff00ff"/>
<polygon points="346.06,132.01 352.16,138.31 346.06,144.61 339.96,138.31" fill="#ff00ff"/>
<polygon points="376.53,128.39 382.63,134.69 376.53,140.99 370.43,134.69" fill="#ff00ff"/>
<polygon points="407.00,124.85 413.10,131.15 407.00,137.45 400.90,131.15" fill="#ff00ff"/>
<polygon points="437.47,121.22 443.57,127.52 437.47,133.82 431.37,127.52" fill="#ff00ff"/>
<polygon points="467.94,117.82 474.04,124.12 467.94,130.42 461.84,124.12" fill="#ff00ff"/>
<polygon points="498.41,114.17 504.51,120.47 498.41,126.77 492.31,120.47" fill="#ff00ff"/>
<polygon points="528.88,110.15 534.98,116.45 528.88,122.75 522.78,116.45" fill="#ff00ff"/>
<polygon points="559.35,106.10 565.45,112.40 559.35,118.70 553.25,112.40" fill="#ff00ff"/>
<polygon points="589.82,101.60 595.92,107.90 589.82,114.20 583.72,107.90" fill="#ff00ff"/>
<polygon points="620.29,97.43 626.39,103.73 620.29,110.03 614.19,103.73" fill="#ff00ff"/>
<polygon points="650.76,93.30 656.86,99.60 650.76,105.90 644.66,99.60" fill="#ff00ff"/>
<polygon points="681.23,89.26 687.33,95.56 681.23,101.86 675.13,95.56" fill="#ff00ff"/>
<polygon points="711.70,85.73 717.80,92.03 711.70,98.33 705.60,92.03" fill="#ff00ff"/>
<polygon points="742.17,82.34 748.27,88.64 742.17,94.94 736.07,88.64" fill="#ff00ff"/>
<polygon points="772.64,79.46 778.74,85.76 772.64,92.06 766.54,85.76" fill="#ff00ff"/>
<polygon points="803.11,76.59 809.21,82.89 803.11,89.19 797.01,82.89" fill="#ff00ff"/>
<polygon points="833.58,74.01 839.68,80.31 833.58,86.61 827.48,80.31" fill="#ff00ff"/>
<polygon points="864.05,71.93 870.15,78.23 864.05,84.53 857.95,78.23" fill="#ff00ff"/>
<polygon points="894.52,70.60 900.62,76.90 894.52,83.20 888.42,76.90" fill="#ff00ff"/>
<polygon points="924.99,69.75 931.09,76.05 924.99,82.35 918.89,76.05" fill="#ff00ff"/>
<polygon points="955.46,69.34 961.56,75.64 955.46,81.94 949.36,75.64" fill="#ff00ff"/>
<polygon points="997.90,69.09 1004.00,75.39 997.90,81.69 991.80,75.39" fill="#ff00ff"/>
<line x1="102.30" y1="391.55" x2="132.77" y2="396.12" stroke="#ff00ff" stroke-width="2.5" stroke-dasharray="11.6 9.1"/>
<line x1="132.77" y1="396.12" x2="163.24" y2="400.51" stroke="#ff00ff" stroke-width="2.5" stroke-dasharray="11.6 9.1"/>
<line x1="163.24" y1="400.51" x2="193.71" y2="404.88" stroke="#ff00ff" stroke-width="2.5" stroke-dasharray="11.6 9.1"/>
<line x1="193.71" y1="404.88" x2="224.18" y2="408.80" stroke="#ff00ff" stroke-width="2.5" stroke-dasharray="11.6 9.1"/>
<line x1="224.18" y1="408.80" x2="254.65" y2="412.24" stroke="#ff00ff" stroke-width="2.5" stroke-dasharray="11.6 9.1"/>
<line x1="254.65" y1="412.24" x2="285.12" y2="414.65" stroke="#ff00ff" stroke-width="2.5" stroke-dasharray="11.6 9.1"/>
<line x1="285.12" y1="414.65" x2="315.59" y2="417.05" stroke="#ff00ff" stroke-width="2.5" stroke-dasharray="11.6 9.1"/>
<line x1="315.59" y1="417.05" x2="346.06" y2="419.51" stroke="#ff00ff" stroke-width="2.5" stroke-dasharray="11.6 9.1"/>
<line x1="346.06" y1="419.51" x2="376.53" y2="421.90" stroke="#ff00ff" stroke-width="2.5" stroke-dasharray="11.6 9.1"/>
<line x1="376.53" y1="421.90" x2="407.00" y2="424.56" stroke="#ff00ff" stroke-width="2.5" stroke-dasharray="11.6 9.1"/>
<line x1="407.00" y1="424.56" x2="437.47" y2="427.57" stroke="#ff00ff" stroke-width="2.5" stroke-dasharray="11.6 9.1"/>
<line x1="437.47" y1="427.57" x2="467.94" y2="430.58" stroke="#ff00ff" stroke-width="2.5" stroke-dasharray="11.6 9.1"/>
<line x1="467.94" y1="430.58" x2="498.41" y2="433.86" stroke="#ff00ff" stroke-width="2.5" stroke-dasharray="11.6 9.1"/>
<line x1="498.41" y1="433.86" x2="528.88" y2="436.99" stroke="#ff00ff" stroke-width="2.5" stroke-dasharray="11.6 9.1"/>
<line x1="528.88" y1="436.99" x2="559.35" y2="439.81" stroke="#ff00ff" stroke-width="2.5" stroke-dasharray="11.6 9.1"/>
<line x1="559.35" y1="439.81" x2="589.82" y2="442.07" stroke="#ff00ff" stroke-width="2.5" stroke-dasharray="11.6 9.1"/>
<line x1="589.82" y1="442.07" x2="620.29" y2="444.45" stroke="#ff00ff" stroke-width="2.5" stroke-dasharray="11.6 9.1"/>
<line x1="620.29" y1="444.45" x2="650.76" y2="446.92" stroke="#ff00ff" stroke-width="2.5" stroke-dasharray="11.6 9.1"/>
<line x1="650.76" y1="446.92" x2="681.23" y2="449.46" stroke="#ff00ff" stroke-width="2.5" stroke-dasharray="11.6 9.1"/>
<line x1="681.23" y1="449.46" x2="711.70" y2="451.89" stroke="#ff00ff" stroke-width="2.5" stroke-dasharray="11.6 9.1"/>
<line x1="711.70" y1="451.89" x2="742.17" y2="454.13" stroke="#ff00ff" stroke-width="2.5" stroke-dasharray="11.6 9.1"/>
<line x1="742.17" y1="454.13" x2="772.64" y2="456.11" stroke="#ff00ff" stroke-width="2.5" stroke-dasharray="11.6 9.1"/>
<line x1="772.64" y1="456.11" x2="803.11" y2="457.85" stroke="#ff00ff" stroke-width="2.5" stroke-dasharray="11.6 9.1"/>
<line x1="803.11" y1="457.85" x2="833.58" y2="459.20" stroke="#ff00ff" stroke-width="2.5" stroke-dasharray="11.6 9.1"/>
<line x1="833.58" y1="459.20" x2="864.05" y2="460.01" stroke="#ff00ff" stroke-width="2.5" stroke-dasharray="11.6 9.1"/>
<line x1="864.05" y1="460.01" x2="894.52" y2="460.37" stroke="#ff00ff" stroke-width="2.5" stroke-dasharray="11.6 9.1"/>
<line x1="894.52" y1="460.37" x2="924.99" y2="460.53" stroke="#ff00ff" stroke-width="2.5" stroke-dasharray="11.6 9.1"/>
<line x1="924.99" y1="460.53" x2="955.46" y2="460.58" stroke="#ff00ff" stroke-width="2.5" stroke-dasharray="11.6 9.1"/>
<line x1="955.46" y1="460.58" x2="997.90" y2="460.63" stroke="#ff00ff" stroke-width="2.5" stroke-dasharray="11.6 9.1"/>
<polygon points="102.30,385.25 108.40,391.55 102.30,397.85 96.20,391.55" fill="#ff00ff"/>
<polygon points="132.77,389.82 138.87,396.12 132.77,402.42 126.67,396.12" fill="#ff00ff"/>
<polygon points="163.24,394.21 169.34,400.51 163.24,406.81 157.14,400.51" fill="#ff00ff"/>
<polygon points="193.71,398.58 199.81,404.88 193.71,411.18 187.61,404.88" fill="#ff00ff"/>
<polygon points="224.18,402.50 230.28,408.80 224.18,415.10 218.08,408.80" fill="#ff00ff"/>
<polygon points="254.65,405.94 260.75,412.24 254.65,418.54 248.55,412.24" fill="#ff00ff"/>
<polygon points="285.12,408.35 291.22,414.65 285.12,420.95 279.02,414.65" fill="#ff00ff"/>
<polygon points="315.59,410.75 321.69,417.05 315.59,423.35 309.49,417.05" fill="#ff00ff"/>
<polygon points="346.06,413.21 352.16,419.51 346.06,425.81 339.96,419.51" fill="#ff00ff"/>
<polygon points="376.53,415.60 382.63,421.90 376.53,428.20 370.43,421.90" fill="#ff00ff"/>
<polygon points="407.00,418.26 413.10,424.56 407.00,430.86 400.90,424.56" fill="#ff00ff"/>
<polygon points="437.47,421.27 443.57,427.57 437.47,433.87 431.37,427.57" fill="#ff00ff"/>
<polygon points="467.94,424.28 474.04,430.58 467.94,436.88 461.84,430.58" fill="#ff00ff"/>
<polygon points="498.41,427.56 504.51,433.86 498.41,440.16 492.31,433.86" fill="#ff00ff"/>
<polygon points="528.88,430.69 534.98,436.99 528.88,443.29 522.78,436.99" fill="#ff00ff"/>
<polygon points="559.35,433.51 565.45,439.81 559.35,446.11 553.25,439.81" fill="#ff00ff"/>
<polygon points="589.82,435.77 595.92,442.07 589.82,448.37 583.72,442.07" fill="#ff00ff"/>
<polygon points="620.29,438.15 626.39,444.45 620.29,450.75 614.19,444.45" fill="#ff00ff"/>
<polygon points="650.76,440.62 656.86,446.92 650.76,453.22 644.66,446.92" fill="#ff00ff"/>
<polygon points="681.23,443.16 687.33,449.46 681.23,455.76 675.13,449.46" fill="#ff00ff"/>
<polygon points="711.70,445.59 717.80,451.89 711.70,458.19 705.60,451.89" fill="#ff00ff"/>
<polygon points="742.17,447.83 748.27,454.13 742.17,460.43 736.07,454.13" fill="#ff00ff"/>
<polygon points="772.64,449.81 778.74,456.11 772.64,462.41 766.54,456.11" fill="#ff00ff"/>
<polygon points="803.11,451.55 809.21,457.85 803.11,464.15 797.01,457.85" fill="#ff00ff"/>
<polygon points="833.58,452.90 839.68,459.20 833.58,465.50 827.48,459.20" fill="#ff00ff"/>
<polygon points="864.05,453.71 870.15,460.01 864.05,466.31 857.95,460.01" fill="#ff00ff"/>
<polygon points="894.52,454.07 900.62,460.37 894.52,466.67 888.42,460.37" fill="#ff00ff"/>
<polygon points="924.99,454.23 931.09,460.53 924.99,466.83 918.89,460.53" fill="#ff00ff"/>
<polygon points="955.46,454.28 961.56,460.58 955.46,466.88 949.36,460.58" fill="#ff00ff"/>
<polygon points="997.90,454.33 1004.00,460.63 997.90,466.93 991.80,460.63" fill="#ff00ff"/>
<polyline points="102.30,157.33 132.77,160.49 163.24,158.08 193.71,154.49 224.18,150.45 254.65,146.36 285.12,142.26 315.59,138.23 346.06,134.61 376.53,130.52 407.00,126.58 437.47,122.41 467.94,118.43 498.41,114.13 528.88,109.47 559.35,104.86 589.82,99.87 620.29,95.26 650.76,90.67 681.23,86.14 711.70,82.14 742.17,78.39 772.64,75.23 803.11,72.03 833.58,69.08 864.05,66.67 894.52,65.13 924.99,64.17 955.46,63.74 997.90,63.47" fill="none" stroke="#00ffff" stroke-width="2.5" stroke-linejoin="round"/>
<polygon points="95.70,153.13 108.90,153.13 102.30,164.33" fill="#00ffff"/>
<polygon points="126.17,156.29 139.37,156.29 132.77,167.49" fill="#00ffff"/>
<polygon points="156.64,153.88 169.84,153.88 163.24,165.08" fill="#00ffff"/>
<polygon points="187.11,150.29 200.31,150.29 193.71,161.49" fill="#00ffff"/>
<polygon points="217.58,146.25 230.78,146.25 224.18,157.45" fill="#00ffff"/>
<polygon points="248.05,142.16 261.25,142.16 254.65,153.36" fill="#00ffff"/>
<polygon points="278.52,138.06 291.72,138.06 285.12,149.26" fill="#00ffff"/>
<polygon points="308.99,134.03 322.19,134.03 315.59,145.23" fill="#00ffff"/>
<polygon points="339.46,130.41 352.66,130.41 346.06,141.61" fill="#00ffff"/>
<polygon points="369.93,126.32 383.13,126.32 376.53,137.52" fill="#00ffff"/>
<polygon points="400.40,122.38 413.60,122.38 407.00,133.58" fill="#00ffff"/>
<polygon points="430.87,118.21 444.07,118.21 437.47,129.41" fill="#00ffff"/>
<polygon points="461.34,114.23 474.54,114.23 467.94,125.43" fill="#00ffff"/>
<polygon points="491.81,109.93 505.01,109.93 498.41,121.13" fill="#00ffff"/>
<polygon points="522.28,105.27 535.48,105.27 528.88,116.47" fill="#00ffff"/>
<polygon points="552.75,100.66 565.95,100.66 559.35,111.86" fill="#00ffff"/>
<polygon points="583.22,95.67 596.42,95.67 589.82,106.87" fill="#00ffff"/>
<polygon points="613.69,91.06 626.89,91.06 620.29,102.26" fill="#00ffff"/>
<polygon points="644.16,86.47 657.36,86.47 650.76,97.67" fill="#00ffff"/>
<polygon points="674.63,81.94 687.83,81.94 681.23,93.14" fill="#00ffff"/>
<polygon points="705.10,77.94 718.30,77.94 711.70,89.14" fill="#00ffff"/>
<polygon points="735.57,74.19 748.77,74.19 742.17,85.39" fill="#00ffff"/>
<polygon points="766.04,71.03 779.24,71.03 772.64,82.23" fill="#00ffff"/>
<polygon points="796.51,67.83 809.71,67.83 803.11,79.03" fill="#00ffff"/>
<polygon points="826.98,64.88 840.18,64.88 833.58,76.08" fill="#00ffff"/>
<polygon points="857.45,62.47 870.65,62.47 864.05,73.67" fill="#00ffff"/>
<polygon points="887.92,60.93 901.12,60.93 894.52,72.13" fill="#00ffff"/>
<polygon points="918.39,59.97 931.59,59.97 924.99,71.17" fill="#00ffff"/>
<polygon points="948.86,59.54 962.06,59.54 955.46,70.74" fill="#00ffff"/>
<polygon points="991.30,59.27 1004.50,59.27 997.90,70.47" fill="#00ffff"/>
<line x1="102.30" y1="391.55" x2="132.77" y2="396.38" stroke="#00ffff" stroke-width="2.5" stroke-dasharray="11.6 9.1"/>
<line x1="132.77" y1="396.38" x2="163.24" y2="400.99" stroke="#00ffff" stroke-width="2.5" stroke-dasharray="11.6 9.1"/>
<line x1="163.24" y1="400.99" x2="193.71" y2="405.76" stroke="#00ffff" stroke-width="2.5" stroke-dasharray="11.6 9.1"/>
<line x1="193.71" y1="405.76" x2="224.18" y2="410.03" stroke="#00ffff" stroke-width="2.5" stroke-dasharray="11.6 9.1"/>
<line x1="224.18" y1="410.03" x2="254.65" y2="413.81" stroke="#00ffff" stroke-width="2.5" stroke-dasharray="11.6 9.1"/>
<line x1="254.65" y1="413.81" x2="285.12" y2="416.50" stroke="#00ffff" stroke-width="2.5" stroke-dasharray="11.6 9.1"/>
<line x1="285.12" y1="416.50" x2="315.59" y2="419.14" stroke="#00ffff" stroke-width="2.5" stroke-dasharray="11.6 9.1"/>
<line x1="315.59" y1="419.14" x2="346.06" y2="421.83" stroke="#00ffff" stroke-width="2.5" stroke-dasharray="11.6 9.1"/>
<line x1="346.06" y1="421.83" x2="376.53" y2="424.48" stroke="#00ffff" stroke-width="2.5" stroke-dasharray="11.6 9.1"/>
<line x1="376.53" y1="424.48" x2="407.00" y2="427.46" stroke="#00ffff" stroke-width="2.5" stroke-dasharray="11.6 9.1"/>
<line x1="407.00" y1="427.46" x2="437.47" y2="430.88" stroke="#00ffff" stroke-width="2.5" stroke-dasharray="11.6 9.1"/>
<line x1="437.47" y1="430.88" x2="467.94" y2="434.28" stroke="#00ffff" stroke-width="2.5" stroke-dasharray="11.6 9.1"/>
<line x1="467.94" y1="434.28" x2="498.41" y2="437.96" stroke="#00ffff" stroke-width="2.5" stroke-dasharray="11.6 9.1"/>
<line x1="498.41" y1="437.96" x2="528.88" y2="441.43" stroke="#00ffff" stroke-width="2.5" stroke-dasharray="11.6 9.1"/>
<line x1="528.88" y1="441.43" x2="559.35" y2="444.54" stroke="#00ffff" stroke-width="2.5" stroke-dasharray="11.6 9.1"/>
<line x1="559.35" y1="444.54" x2="589.82" y2="447.00" stroke="#00ffff" stroke-width="2.5" stroke-dasharray="11.6 9.1"/>
<line x1="589.82" y1="447.00" x2="620.29" y2="449.52" stroke="#00ffff" stroke-width="2.5" stroke-dasharray="11.6 9.1"/>
<line x1="620.29" y1="449.52" x2="650.76" y2="452.12" stroke="#00ffff" stroke-width="2.5" stroke-dasharray="11.6 9.1"/>
<line x1="650.76" y1="452.12" x2="681.23" y2="454.73" stroke="#00ffff" stroke-width="2.5" stroke-dasharray="11.6 9.1"/>
<line x1="681.23" y1="454.73" x2="711.70" y2="457.23" stroke="#00ffff" stroke-width="2.5" stroke-dasharray="11.6 9.1"/>
<line x1="711.70" y1="457.23" x2="742.17" y2="459.52" stroke="#00ffff" stroke-width="2.5" stroke-dasharray="11.6 9.1"/>
<line x1="742.17" y1="459.52" x2="772.64" y2="461.49" stroke="#00ffff" stroke-width="2.5" stroke-dasharray="11.6 9.1"/>
<line x1="772.64" y1="461.49" x2="803.11" y2="463.20" stroke="#00ffff" stroke-width="2.5" stroke-dasharray="11.6 9.1"/>
<line x1="803.11" y1="463.20" x2="833.58" y2="464.48" stroke="#00ffff" stroke-width="2.5" stroke-dasharray="11.6 9.1"/>
<line x1="833.58" y1="464.48" x2="864.05" y2="465.23" stroke="#00ffff" stroke-width="2.5" stroke-dasharray="11.6 9.1"/>
<line x1="864.05" y1="465.23" x2="894.52" y2="465.58" stroke="#00ffff" stroke-width="2.5" stroke-dasharray="11.6 9.1"/>
<line x1="894.52" y1="465.58" x2="924.99" y2="465.72" stroke="#00ffff" stroke-width="2.5" stroke-dasharray="11.6 9.1"/>
<line x1="924.99" y1="465.72" x2="955.46" y2="465.76" stroke="#00ffff" stroke-width="2.5" stroke-dasharray="11.6 9.1"/>
<line x1="955.46" y1="465.76" x2="997.90" y2="465.80" stroke="#00ffff" stroke-width="2.5" stroke-dasharray="11.6 9.1"/>
<polygon points="95.70,387.35 108.90,387.35 102.30,398.55" fill="#00ffff"/>
<polygon points="126.17,392.18 139.37,392.18 132.77,403.38" fill="#00ffff"/>
<polygon points="156.64,396.79 169.84,396.79 163.24,407.99" fill="#00ffff"/>
<polygon points="187.11,401.56 200.31,401.56 193.71,412.76" fill="#00ffff"/>
<polygon points="217.58,405.83 230.78,405.83 224.18,417.03" fill="#00ffff"/>
<polygon points="248.05,409.61 261.25,409.61 254.65,420.81" fill="#00ffff"/>
<polygon points="278.52,412.30 291.72,412.30 285.12,423.50" fill="#00ffff"/>
<polygon points="308.99,414.94 322.19,414.94 315.59,426.14" fill="#00ffff"/>
<polygon points="339.46,417.63 352.66,417.63 346.06,428.83" fill="#00ffff"/>
<polygon points="369.93,420.28 383.13,420.28 376.53,431.48" fill="#00ffff"/>
<polygon points="400.40,423.26 413.60,423.26 407.00,434.46" fill="#00ffff"/>
<polygon points="430.87,426.68 444.07,426.68 437.47,437.88" fill="#00ffff"/>
<polygon points="461.34,430.08 474.54,430.08 467.94,441.28" fill="#00ffff"/>
<polygon points="491.81,433.76 505.01,433.76 498.41,444.96" fill="#00ffff"/>
<polygon points="522.28,437.23 535.48,437.23 528.88,448.43" fill="#00ffff"/>
<polygon points="552.75,440.34 565.95,440.34 559.35,451.54" fill="#00ffff"/>
<polygon points="583.22,442.80 596.42,442.80 589.82,454.00" fill="#00ffff"/>
<polygon points="613.69,445.32 626.89,445.32 620.29,456.52" fill="#00ffff"/>
<polygon points="644.16,447.92 657.36,447.92 650.76,459.12" fill="#00ffff"/>
<polygon points="674.63,450.53 687.83,450.53 681.23,461.73" fill="#00ffff"/>
<polygon points="705.10,453.03 718.30,453.03 711.70,464.23" fill="#00ffff"/>
<polygon points="735.57,455.32 748.77,455.32 742.17,466.52" fill="#00ffff"/>
<polygon points="766.04,457.29 779.24,457.29 772.64,468.49" fill="#00ffff"/>
<polygon points="796.51,459.00 809.71,459.00 803.11,470.20" fill="#00ffff"/>
<polygon points="826.98,460.28 840.18,460.28 833.58,471.48" fill="#00ffff"/>
<polygon points="857.45,461.03 870.65,461.03 864.05,472.23" fill="#00ffff"/>
<polygon points="887.92,461.38 901.12,461.38 894.52,472.58" fill="#00ffff"/>
<polygon points="918.39,461.52 931.59,461.52 924.99,472.72" fill="#00ffff"/>
<polygon points="948.86,461.56 962.06,461.56 955.46,472.76" fill="#00ffff"/>
<polygon points="991.30,461.60 1004.50,461.60 997.90,472.80" fill="#00ffff"/>
<polyline points="102.30,157.33 132.77,160.49 163.24,155.86 193.71,150.82 224.18,145.28 254.65,139.31 285.12,133.25 315.59,127.53 346.06,122.97 376.53,117.68 407.00,112.66 437.47,107.09 467.94,101.56 498.41,95.83 528.88,89.92 559.35,84.26 589.82,78.42 620.29,72.83 650.76,67.09 681.23,61.35 711.70,56.14 742.17,51.46 772.64,47.54 803.11,43.48 833.58,39.58 864.05,36.27 894.52,34.20 924.99,32.97 955.46,32.45 997.90,32.15" fill="none" stroke="#e5553a" stroke-width="2.5" stroke-linejoin="round"/>
<polygon points="95.40,157.33 106.60,150.63 106.60,164.03" fill="#e5553a"/>
<polygon points="125.87,160.49 137.07,153.79 137.07,167.19" fill="#e5553a"/>
<polygon points="156.34,155.86 167.54,149.16 167.54,162.56" fill="#e5553a"/>
<polygon points="186.81,150.82 198.01,144.12 198.01,157.52" fill="#e5553a"/>
<polygon points="217.28,145.28 228.48,138.58 228.48,151.98" fill="#e5553a"/>
<polygon points="247.75,139.31 258.95,132.61 258.95,146.01" fill="#e5553a"/>
<polygon points="278.22,133.25 289.42,126.55 289.42,139.95" fill="#e5553a"/>
<polygon points="308.69,127.53 319.89,120.83 319.89,134.23" fill="#e5553a"/>
<polygon points="339.16,122.97 350.36,116.27 350.36,129.67" fill="#e5553a"/>
<polygon points="369.63,117.68 380.83,110.98 380.83,124.38" fill="#e5553a"/>
<polygon points="400.10,112.66 411.30,105.96 411.30,119.36" fill="#e5553a"/>
<polygon points="430.57,107.09 441.77,100.39 441.77,113.79" fill="#e5553a"/>
<polygon points="461.04,101.56 472.24,94.86 472.24,108.26" fill="#e5553a"/>
<polygon points="491.51,95.83 502.71,89.13 502.71,102.53" fill="#e5553a"/>
<polygon points="521.98,89.92 533.18,83.22 533.18,96.62" fill="#e5553a"/>
<polygon points="552.45,84.26 563.65,77.56 563.65,90.96" fill="#e5553a"/>
<polygon points="582.92,78.42 594.12,71.72 594.12,85.12" fill="#e5553a"/>
<polygon points="613.39,72.83 624.59,66.13 624.59,79.53" fill="#e5553a"/>
<polygon points="643.86,67.09 655.06,60.39 655.06,73.79" fill="#e5553a"/>
<polygon points="674.33,61.35 685.53,54.65 685.53,68.05" fill="#e5553a"/>
<polygon points="704.80,56.14 716.00,49.44 716.00,62.84" fill="#e5553a"/>
<polygon points="735.27,51.46 746.47,44.76 746.47,58.16" fill="#e5553a"/>
<polygon points="765.74,47.54 776.94,40.84 776.94,54.24" fill="#e5553a"/>
<polygon points="796.21,43.48 807.41,36.78 807.41,50.18" fill="#e5553a"/>
<polygon points="826.68,39.58 837.88,32.88 837.88,46.28" fill="#e5553a"/>
<polygon points="857.15,36.27 868.35,29.57 868.35,42.97" fill="#e5553a"/>
<polygon points="887.62,34.20 898.82,27.50 898.82,40.90" fill="#e5553a"/>
<polygon points="918.09,32.97 929.29,26.27 929.29,39.67" fill="#e5553a"/>
<polygon points="948.56,32.45 959.76,25.75 959.76,39.15" fill="#e5553a"/>
<polygon points="991.00,32.15 1002.20,25.45 1002.20,38.85" fill="#e5553a"/>
<line x1="102.30" y1="391.55" x2="132.77" y2="397.03" stroke="#e5553a" stroke-width="2.5" stroke-dasharray="11.6 9.1"/>
<line x1="132.77" y1="397.03" x2="163.24" y2="402.19" stroke="#e5553a" stroke-width="2.5" stroke-dasharray="11.6 9.1"/>
<line x1="163.24" y1="402.19" x2="193.71" y2="407.98" stroke="#e5553a" stroke-width="2.5" stroke-dasharray="11.6 9.1"/>
<line x1="193.71" y1="407.98" x2="224.18" y2="413.16" stroke="#e5553a" stroke-width="2.5" stroke-dasharray="11.6 9.1"/>
<line x1="224.18" y1="413.16" x2="254.65" y2="417.79" stroke="#e5553a" stroke-width="2.5" stroke-dasharray="11.6 9.1"/>
<line x1="254.65" y1="417.79" x2="285.12" y2="421.17" stroke="#e5553a" stroke-width="2.5" stroke-dasharray="11.6 9.1"/>
<line x1="285.12" y1="421.17" x2="315.59" y2="424.43" stroke="#e5553a" stroke-width="2.5" stroke-dasharray="11.6 9.1"/>
<line x1="315.59" y1="424.43" x2="346.06" y2="427.71" stroke="#e5553a" stroke-width="2.5" stroke-dasharray="11.6 9.1"/>
<line x1="346.06" y1="427.71" x2="376.53" y2="431.29" stroke="#e5553a" stroke-width="2.5" stroke-dasharray="11.6 9.1"/>
<line x1="376.53" y1="431.29" x2="407.00" y2="435.42" stroke="#e5553a" stroke-width="2.5" stroke-dasharray="11.6 9.1"/>
<line x1="407.00" y1="435.42" x2="437.47" y2="440.17" stroke="#e5553a" stroke-width="2.5" stroke-dasharray="11.6 9.1"/>
<line x1="437.47" y1="440.17" x2="467.94" y2="444.64" stroke="#e5553a" stroke-width="2.5" stroke-dasharray="11.6 9.1"/>
<line x1="467.94" y1="444.64" x2="498.41" y2="449.26" stroke="#e5553a" stroke-width="2.5" stroke-dasharray="11.6 9.1"/>
<line x1="498.41" y1="449.26" x2="528.88" y2="453.51" stroke="#e5553a" stroke-width="2.5" stroke-dasharray="11.6 9.1"/>
<line x1="528.88" y1="453.51" x2="559.35" y2="457.24" stroke="#e5553a" stroke-width="2.5" stroke-dasharray="11.6 9.1"/>
<line x1="559.35" y1="457.24" x2="589.82" y2="460.12" stroke="#e5553a" stroke-width="2.5" stroke-dasharray="11.6 9.1"/>
<line x1="589.82" y1="460.12" x2="620.29" y2="462.85" stroke="#e5553a" stroke-width="2.5" stroke-dasharray="11.6 9.1"/>
<line x1="620.29" y1="462.85" x2="650.76" y2="465.58" stroke="#e5553a" stroke-width="2.5" stroke-dasharray="11.6 9.1"/>
<line x1="650.76" y1="465.58" x2="681.23" y2="468.19" stroke="#e5553a" stroke-width="2.5" stroke-dasharray="11.6 9.1"/>
<line x1="681.23" y1="468.19" x2="711.70" y2="470.68" stroke="#e5553a" stroke-width="2.5" stroke-dasharray="11.6 9.1"/>
<line x1="711.70" y1="470.68" x2="742.17" y2="472.87" stroke="#e5553a" stroke-width="2.5" stroke-dasharray="11.6 9.1"/>
<line x1="742.17" y1="472.87" x2="772.64" y2="474.71" stroke="#e5553a" stroke-width="2.5" stroke-dasharray="11.6 9.1"/>
<line x1="772.64" y1="474.71" x2="803.11" y2="476.22" stroke="#e5553a" stroke-width="2.5" stroke-dasharray="11.6 9.1"/>
<line x1="803.11" y1="476.22" x2="833.58" y2="477.20" stroke="#e5553a" stroke-width="2.5" stroke-dasharray="11.6 9.1"/>
<line x1="833.58" y1="477.20" x2="864.05" y2="477.75" stroke="#e5553a" stroke-width="2.5" stroke-dasharray="11.6 9.1"/>
<line x1="864.05" y1="477.75" x2="894.52" y2="478.11" stroke="#e5553a" stroke-width="2.5" stroke-dasharray="11.6 9.1"/>
<line x1="894.52" y1="478.11" x2="924.99" y2="478.25" stroke="#e5553a" stroke-width="2.5" stroke-dasharray="11.6 9.1"/>
<line x1="924.99" y1="478.25" x2="955.46" y2="478.29" stroke="#e5553a" stroke-width="2.5" stroke-dasharray="11.6 9.1"/>
<line x1="955.46" y1="478.29" x2="997.90" y2="478.34" stroke="#e5553a" stroke-width="2.5" stroke-dasharray="11.6 9.1"/>
<polygon points="95.40,391.55 106.60,384.85 106.60,398.25" fill="#e5553a"/>
<polygon points="125.87,397.03 137.07,390.33 137.07,403.73" fill="#e5553a"/>
<polygon points="156.34,402.19 167.54,395.49 167.54,408.89" fill="#e5553a"/>
<polygon points="186.81,407.98 198.01,401.28 198.01,414.68" fill="#e5553a"/>
<polygon points="217.28,413.16 228.48,406.46 228.48,419.86" fill="#e5553a"/>
<polygon points="247.75,417.79 258.95,411.09 258.95,424.49" fill="#e5553a"/>
<polygon points="278.22,421.17 289.42,414.47 289.42,427.87" fill="#e5553a"/>
<polygon points="308.69,424.43 319.89,417.73 319.89,431.13" fill="#e5553a"/>
<polygon points="339.16,427.71 350.36,421.01 350.36,434.41" fill="#e5553a"/>
<polygon points="369.63,431.29 380.83,424.59 380.83,437.99" fill="#e5553a"/>
<polygon points="400.10,435.42 411.30,428.72 411.30,442.12" fill="#e5553a"/>
<polygon points="430.57,440.17 441.77,433.47 441.77,446.87" fill="#e5553a"/>
<polygon points="461.04,444.64 472.24,437.94 472.24,451.34" fill="#e5553a"/>
<polygon points="491.51,449.26 502.71,442.56 502.71,455.96" fill="#e5553a"/>
<polygon points="521.98,453.51 533.18,446.81 533.18,460.21" fill="#e5553a"/>
<polygon points="552.45,457.24 563.65,450.54 563.65,463.94" fill="#e5553a"/>
<polygon points="582.92,460.12 594.12,453.42 594.12,466.82" fill="#e5553a"/>
<polygon points="613.39,462.85 624.59,456.15 624.59,469.55" fill="#e5553a"/>
<polygon points="643.86,465.58 655.06,458.88 655.06,472.28" fill="#e5553a"/>
<polygon points="674.33,468.19 685.53,461.49 685.53,474.89" fill="#e5553a"/>
<polygon points="704.80,470.68 716.00,463.98 716.00,477.38" fill="#e5553a"/>
<polygon points="735.27,472.87 746.47,466.17 746.47,479.57" fill="#e5553a"/>
<polygon points="765.74,474.71 776.94,468.01 776.94,481.41" fill="#e5553a"/>
<polygon points="796.21,476.22 807.41,469.52 807.41,482.92" fill="#e5553a"/>
<polygon points="826.68,477.20 837.88,470.50 837.88,483.90" fill="#e5553a"/>
<polygon points="857.15,477.75 868.35,471.05 868.35,484.45" fill="#e5553a"/>
<polygon points="887.62,478.11 898.82,471.41 898.82,484.81" fill="#e5553a"/>
<polygon points="918.09,478.25 929.29,471.55 929.29,484.95" fill="#e5553a"/>
<polygon points="948.56,478.29 959.76,471.59 959.76,484.99" fill="#e5553a"/>
<polygon points="991.00,478.34 1002.20,471.64 1002.20,485.04" fill="#e5553a"/>
</g>
<text x="90.30" y="553.72" font-size="30.5" text-anchor="end" >-20</text>
<text x="90.30" y="448.26" font-size="30.5" text-anchor="end" >-10</text>
<text x="90.30" y="342.80" font-size="30.5" text-anchor="end" >0</text>
<text x="90.30" y="237.34" font-size="30.5" text-anchor="end" >10</text>
<text x="90.30" y="131.88" font-size="30.5" text-anchor="end" >20</text>
<text x="90.30" y="26.42" font-size="30.5" text-anchor="end" >30</text>
<text x="102.30" y="370.20" font-size="30.5" text-anchor="middle" >0</text>
<text x="281.42" y="370.20" font-size="30.5" text-anchor="middle" >100</text>
<text x="460.54" y="370.20" font-size="30.5" text-anchor="middle" >200</text>
<text x="639.66" y="370.20" font-size="30.5" text-anchor="middle" >300</text>
<text x="818.78" y="370.20" font-size="30.5" text-anchor="middle" >400</text>
<text x="997.90" y="370.20" font-size="30.5" text-anchor="middle" >500</text>
<text x="566.20" y="394.60" font-size="31.8" text-anchor="middle" ><tspan font-style="italic">x</tspan> (m)</text>
<text transform="translate(28.4,248.0) rotate(-90)" font-size="31.8" text-anchor="middle"><tspan font-style="italic">v</tspan> (m/s)</text>
<line x1="159.80" y1="182.00" x2="231.80" y2="182.00" stroke="#ff0000" stroke-width="2.5" />
<rect x="190.86" y="177.06" width="9.89" height="9.89" fill="#ff0000"/>
<text x="239.30" y="191.60" font-size="31" class="t">0°<tspan x="278.50">- positive</tspan></text>
<line x1="159.80" y1="220.60" x2="231.80" y2="220.60" stroke="#ff0000" stroke-width="2.5" stroke-dasharray="10.3 9.2"/>
<rect x="190.86" y="215.66" width="9.89" height="9.89" fill="#ff0000"/>
<text x="239.30" y="230.20" font-size="31" class="t">0°<tspan x="278.50">- negative</tspan></text>
<line x1="159.80" y1="259.10" x2="231.80" y2="259.10" stroke="#ff00ff" stroke-width="2.5" />
<polygon points="195.80,252.30 202.39,259.10 195.80,265.90 189.21,259.10" fill="#ff00ff"/>
<text x="239.30" y="268.70" font-size="31" class="t">30°<tspan x="294.00">- positive</tspan></text>
<line x1="159.80" y1="297.80" x2="231.80" y2="297.80" stroke="#ff00ff" stroke-width="2.5" stroke-dasharray="10.3 9.2"/>
<polygon points="195.80,291.00 202.39,297.80 195.80,304.60 189.21,297.80" fill="#ff00ff"/>
<text x="239.30" y="307.40" font-size="31" class="t">30°<tspan x="294.00">- negative</tspan></text>
<line x1="440.30" y1="182.00" x2="512.30" y2="182.00" stroke="#00ff00" stroke-width="2.5" />
<circle cx="476.30" cy="182.00" r="5.46" fill="#00ff00"/>
<text x="519.00" y="191.60" font-size="31" class="t">10°<tspan x="574.00">- positive</tspan></text>
<line x1="438.80" y1="220.60" x2="510.80" y2="220.60" stroke="#00ff00" stroke-width="2.5" stroke-dasharray="10.3 9.2"/>
<circle cx="474.80" cy="220.60" r="5.46" fill="#00ff00"/>
<text x="517.50" y="230.20" font-size="31" class="t">10°<tspan x="572.50">- negative</tspan></text>
<line x1="440.30" y1="259.10" x2="512.30" y2="259.10" stroke="#00ffff" stroke-width="2.5" />
<polygon points="469.50,254.77 483.10,254.77 476.30,266.31" fill="#00ffff"/>
<text x="519.00" y="268.70" font-size="31" class="t">40°<tspan x="573.60">- positive</tspan></text>
<line x1="438.80" y1="297.80" x2="510.80" y2="297.80" stroke="#00ffff" stroke-width="2.5" stroke-dasharray="10.3 9.2"/>
<polygon points="468.00,293.47 481.60,293.47 474.80,305.01" fill="#00ffff"/>
<text x="517.50" y="307.40" font-size="31" class="t">40°<tspan x="572.10">- negative</tspan></text>
<line x1="728.30" y1="182.00" x2="800.30" y2="182.00" stroke="#0000ff" stroke-width="2.5" />
<polygon points="764.30,175.20 771.10,186.43 757.50,186.43" fill="#0000ff"/>
<text x="806.80" y="191.60" font-size="31" class="t">20°<tspan x="861.80">- positive</tspan></text>
<line x1="725.50" y1="220.60" x2="797.50" y2="220.60" stroke="#0000ff" stroke-width="2.5" stroke-dasharray="10.3 9.2"/>
<polygon points="761.50,213.80 768.30,225.03 754.70,225.03" fill="#0000ff"/>
<text x="804.00" y="230.20" font-size="31" class="t">20°<tspan x="859.00">- negative</tspan></text>
<line x1="728.30" y1="259.10" x2="800.30" y2="259.10" stroke="#e5553a" stroke-width="2.5" />
<polygon points="757.19,259.10 768.73,252.20 768.73,266.00" fill="#e5553a"/>
<text x="806.80" y="268.70" font-size="31" class="t">90°<tspan x="861.80">- positive</tspan></text>
<line x1="725.50" y1="297.80" x2="797.50" y2="297.80" stroke="#e5553a" stroke-width="2.5" stroke-dasharray="10.3 9.2"/>
<polygon points="754.39,297.80 765.93,290.90 765.93,304.70" fill="#e5553a"/>
<text x="804.00" y="307.40" font-size="31" class="t">90°<tspan x="859.00">- negative</tspan></text>
<text transform="translate(512.5,600.3) scale(0.93,0.985)" font-size="42" text-anchor="middle">(<tspan font-weight="bold">a</tspan>)</text>
<line x1="105.70" y1="631.15" x2="105.70" y2="1155.05" stroke="#000" stroke-width="2.3" />
<line x1="104.55" y1="980.40" x2="994.60" y2="980.40" stroke="#000" stroke-width="2.3" />
<line x1="105.70" y1="1155.00" x2="117.20" y2="1155.00" stroke="#000" stroke-width="2.3" />
<line x1="105.70" y1="1111.35" x2="111.70" y2="1111.35" stroke="#000" stroke-width="2.3" />
<line x1="105.70" y1="1067.70" x2="117.20" y2="1067.70" stroke="#000" stroke-width="2.3" />
<line x1="105.70" y1="1024.05" x2="111.70" y2="1024.05" stroke="#000" stroke-width="2.3" />
<line x1="105.70" y1="936.75" x2="111.70" y2="936.75" stroke="#000" stroke-width="2.3" />
<line x1="105.70" y1="893.10" x2="117.20" y2="893.10" stroke="#000" stroke-width="2.3" />
<line x1="105.70" y1="849.45" x2="111.70" y2="849.45" stroke="#000" stroke-width="2.3" />
<line x1="105.70" y1="805.80" x2="117.20" y2="805.80" stroke="#000" stroke-width="2.3" />
<line x1="105.70" y1="762.15" x2="111.70" y2="762.15" stroke="#000" stroke-width="2.3" />
<line x1="105.70" y1="718.50" x2="117.20" y2="718.50" stroke="#000" stroke-width="2.3" />
<line x1="105.70" y1="674.85" x2="111.70" y2="674.85" stroke="#000" stroke-width="2.3" />
<line x1="105.70" y1="631.20" x2="117.20" y2="631.20" stroke="#000" stroke-width="2.3" />
<line x1="194.48" y1="980.40" x2="194.48" y2="974.40" stroke="#000" stroke-width="2.3" />
<line x1="283.25" y1="980.40" x2="283.25" y2="968.90" stroke="#000" stroke-width="2.3" />
<line x1="372.02" y1="980.40" x2="372.02" y2="974.40" stroke="#000" stroke-width="2.3" />
<line x1="460.80" y1="980.40" x2="460.80" y2="968.90" stroke="#000" stroke-width="2.3" />
<line x1="549.58" y1="980.40" x2="549.58" y2="974.40" stroke="#000" stroke-width="2.3" />
<line x1="638.35" y1="980.40" x2="638.35" y2="968.90" stroke="#000" stroke-width="2.3" />
<line x1="727.13" y1="980.40" x2="727.13" y2="974.40" stroke="#000" stroke-width="2.3" />
<line x1="815.90" y1="980.40" x2="815.90" y2="968.90" stroke="#000" stroke-width="2.3" />
<line x1="904.68" y1="980.40" x2="904.68" y2="974.40" stroke="#000" stroke-width="2.3" />
<line x1="993.45" y1="980.40" x2="993.45" y2="968.90" stroke="#000" stroke-width="2.3" />
<g clip-path="url(#cb)">
<path d="M105.90,985.00 L106.02,979.23 L106.19,971.06 L106.39,961.12 L106.60,950.00 L106.79,938.00 L106.99,924.75 L107.24,909.88 L107.60,893.00 L108.09,873.36 L108.67,851.38 L109.34,828.45 L110.10,806.00 L111.02,782.74 L112.08,758.47 L113.13,736.21 L114.00,719.00 L114.62,708.52 L115.09,702.87 L115.51,699.66 L116.00,696.50 L116.59,692.90 L117.23,690.09 L117.88,688.25 L118.50,687.60 L119.09,688.25 L119.66,690.09 L120.22,692.90 L120.80,696.50 L121.33,699.66 L121.83,702.87 L122.41,708.52 L123.20,719.00 L124.17,736.21 L125.28,758.47 L126.60,782.74 L128.20,806.00 L130.17,828.22 L132.46,850.75 L134.89,872.66 L137.30,893.00 L139.84,912.25 L142.52,930.67 L145.02,947.00 L147.00,960.00 L148.21,968.21 L148.87,972.68 L149.40,975.88 L150.20,980.30 L151.41,986.58 L152.81,993.41 L154.25,1000.33 L155.60,1006.90 L156.79,1013.05 L157.89,1018.99 L159.03,1024.74 L160.30,1030.30 L161.76,1035.70 L163.36,1040.93 L164.99,1045.92 L166.60,1050.60 L168.01,1055.05 L169.31,1059.28 L170.81,1063.09 L172.80,1066.25 L175.48,1068.76 L178.66,1070.72 L182.03,1072.08 L185.30,1072.80 L188.43,1072.86 L191.55,1072.29 L194.68,1071.12 L197.80,1069.40 L200.85,1067.03 L203.86,1064.01 L206.96,1060.57 L210.30,1056.90 L213.98,1053.00 L217.90,1048.79 L221.92,1044.33 L225.90,1039.70 L229.82,1034.88 L233.75,1029.84 L237.68,1024.66 L241.60,1019.40 L245.60,1013.93 L249.65,1008.26 L253.58,1002.68 L257.20,997.50 L260.59,992.57 L263.79,987.80 L266.63,983.58 L268.90,980.30 L270.39,978.33 L271.25,977.38 L271.86,976.83 L272.60,976.07 L273.52,975.00 L274.45,973.93 L275.37,972.87 L276.30,971.81 L277.22,970.77 L278.15,969.74 L279.08,968.71 L280.00,967.70 L280.93,966.71 L281.85,965.73 L282.77,964.76 L283.70,963.81 L284.62,962.88 L285.55,961.97 L286.47,961.08 L287.40,960.20 L288.32,959.36 L289.25,958.53 L290.18,957.72 L291.10,956.94 L292.03,956.19 L292.95,955.46 L293.88,954.76 L294.80,954.08 L295.73,953.44 L296.65,952.82 L297.57,952.23 L298.50,951.67 L299.43,951.14 L300.35,950.65 L301.27,950.18 L302.20,949.75 L303.12,949.35 L304.05,948.99 L304.97,948.65 L305.90,948.36 L306.82,948.09 L307.75,947.86 L308.68,947.67 L309.60,947.51 L310.50,947.39 L311.38,947.30 L312.30,947.24 L313.30,947.23 L314.42,947.24 L315.62,947.30 L316.86,947.39 L318.08,947.51 L319.28,947.67 L320.48,947.86 L321.67,948.09 L322.87,948.36 L324.06,948.65 L325.26,948.99 L326.45,949.35 L327.65,949.75 L328.85,950.18 L330.04,950.65 L331.24,951.14 L332.43,951.67 L333.63,952.23 L334.83,952.82 L336.02,953.44 L337.22,954.08 L338.41,954.76 L339.61,955.46 L340.80,956.19 L342.00,956.94 L343.20,957.72 L344.39,958.53 L345.59,959.36 L346.78,960.20 L347.98,961.08 L349.17,961.97 L350.37,962.88 L351.57,963.81 L352.76,964.76 L353.96,965.73 L355.15,966.71 L356.35,967.70 L357.55,968.71 L358.74,969.74 L359.94,970.77 L361.13,971.81 L362.33,972.87 L363.52,973.93 L364.72,975.00 L365.92,976.07 L367.13,977.18 L368.36,978.33 L369.56,979.42 L370.70,980.40 L371.74,981.21 L372.72,981.90 L373.67,982.54 L374.63,983.20 L375.62,983.90 L376.60,984.59 L377.58,985.28 L378.57,985.96 L379.55,986.63 L380.53,987.30 L381.52,987.97 L382.50,988.62 L383.48,989.26 L384.47,989.90 L385.45,990.52 L386.43,991.14 L387.42,991.74 L388.40,992.33 L389.38,992.91 L390.37,993.47 L391.35,994.02 L392.33,994.56 L393.32,995.08 L394.30,995.59 L395.28,996.07 L396.27,996.55 L397.25,997.00 L398.23,997.44 L399.22,997.86 L400.20,998.26 L401.18,998.64 L402.17,999.00 L403.15,999.34 L404.13,999.66 L405.12,999.96 L406.10,1000.24 L407.08,1000.50 L408.07,1000.74 L409.05,1000.95 L410.03,1001.14 L411.02,1001.31 L412.00,1001.46 L412.98,1001.59 L413.97,1001.69 L414.94,1001.77 L415.89,1001.83 L416.87,1001.86 L417.90,1001.88 L418.99,1001.86 L420.14,1001.83 L421.30,1001.77 L422.45,1001.69 L423.59,1001.59 L424.73,1001.46 L425.86,1001.31 L427.00,1001.14 L428.14,1000.95 L429.27,1000.74 L430.41,1000.50 L431.55,1000.24 L432.69,999.96 L433.82,999.66 L434.96,999.34 L436.10,999.00 L437.24,998.64 L438.38,998.26 L439.51,997.86 L440.65,997.44 L441.79,997.00 L442.92,996.55 L444.06,996.07 L445.20,995.59 L446.34,995.08 L447.48,994.56 L448.61,994.02 L449.75,993.47 L450.89,992.91 L452.02,992.33 L453.16,991.74 L454.30,991.14 L455.44,990.52 L456.58,989.90 L457.71,989.26 L458.85,988.62 L459.99,987.97 L461.12,987.30 L462.26,986.63 L463.40,985.96 L464.54,985.28 L465.67,984.59 L466.81,983.90 L467.95,983.20 L469.10,982.49 L470.26,981.76 L471.40,981.05 L472.50,980.40 L473.54,979.84 L474.54,979.34 L475.52,978.86 L476.52,978.37 L477.52,977.87 L478.53,977.37 L479.53,976.87 L480.53,976.38 L481.54,975.89 L482.54,975.41 L483.55,974.93 L484.55,974.45 L485.55,973.99 L486.56,973.53 L487.56,973.07 L488.57,972.63 L489.57,972.19 L490.57,971.77 L491.58,971.35 L492.58,970.94 L493.59,970.54 L494.59,970.15 L495.60,969.78 L496.60,969.41 L497.60,969.06 L498.61,968.72 L499.61,968.39 L500.62,968.07 L501.62,967.77 L502.62,967.48 L503.63,967.20 L504.63,966.94 L505.64,966.70 L506.64,966.46 L507.65,966.25 L508.65,966.04 L509.65,965.86 L510.66,965.69 L511.66,965.53 L512.67,965.39 L513.67,965.27 L514.68,965.16 L515.68,965.07 L516.68,964.99 L517.68,964.94 L518.67,964.89 L519.67,964.87 L520.70,964.86 L521.77,964.87 L522.86,964.89 L523.97,964.94 L525.07,964.99 L526.16,965.07 L527.25,965.16 L528.34,965.27 L529.43,965.39 L530.53,965.53 L531.62,965.69 L532.71,965.86 L533.80,966.04 L534.89,966.25 L535.98,966.46 L537.08,966.70 L538.17,966.94 L539.26,967.20 L540.35,967.48 L541.44,967.77 L542.53,968.07 L543.63,968.39 L544.72,968.72 L545.81,969.06 L546.90,969.41 L547.99,969.78 L549.08,970.15 L550.18,970.54 L551.27,970.94 L552.36,971.35 L553.45,971.77 L554.54,972.19 L555.63,972.63 L556.73,973.07 L557.82,973.53 L558.91,973.99 L560.00,974.45 L561.09,974.93 L562.18,975.41 L563.27,975.89 L564.37,976.38 L565.46,976.87 L566.55,977.37 L567.64,977.87 L568.73,978.37 L569.84,978.88 L570.95,979.40 L572.04,979.91 L573.10,980.40 L574.11,980.85 L575.08,981.29 L576.03,981.71 L576.99,982.13 L577.96,982.56 L578.94,982.99 L579.91,983.41 L580.88,983.83 L581.86,984.25 L582.83,984.67 L583.80,985.07 L584.78,985.48 L585.75,985.88 L586.72,986.27 L587.69,986.66 L588.67,987.03 L589.64,987.41 L590.61,987.77 L591.59,988.13 L592.56,988.48 L593.53,988.82 L594.50,989.15 L595.48,989.47 L596.45,989.78 L597.42,990.08 L598.40,990.38 L599.37,990.66 L600.34,990.93 L601.31,991.19 L602.29,991.43 L603.26,991.67 L604.23,991.89 L605.21,992.10 L606.18,992.30 L607.15,992.49 L608.12,992.66 L609.10,992.82 L610.07,992.97 L611.04,993.10 L612.02,993.22 L612.99,993.32 L613.96,993.41 L614.94,993.49 L615.91,993.56 L616.87,993.61 L617.82,993.64 L618.79,993.66 L619.80,993.67 L620.86,993.66 L621.95,993.64 L623.06,993.61 L624.17,993.56 L625.26,993.49 L626.35,993.41 L627.44,993.32 L628.53,993.22 L629.62,993.10 L630.72,992.97 L631.81,992.82 L632.90,992.66 L633.99,992.49 L635.08,992.30 L636.17,992.10 L637.27,991.89 L638.36,991.67 L639.45,991.43 L640.54,991.19 L641.63,990.93 L642.73,990.66 L643.82,990.38 L644.91,990.08 L646.00,989.78 L647.09,989.47 L648.18,989.15 L649.27,988.82 L650.37,988.48 L651.46,988.13 L652.55,987.77 L653.64,987.41 L654.73,987.03 L655.83,986.66 L656.92,986.27 L658.01,985.88 L659.10,985.48 L660.19,985.07 L661.28,984.67 L662.38,984.25 L663.47,983.83 L664.56,983.41 L665.65,982.99 L666.74,982.56 L667.83,982.13 L668.93,981.69 L670.03,981.25 L671.12,980.81 L672.20,980.40 L673.25,980.03 L674.29,979.68 L675.32,979.35 L676.35,979.01 L677.39,978.67 L678.42,978.32 L679.46,977.98 L680.50,977.64 L681.54,977.31 L682.58,976.98 L683.61,976.65 L684.65,976.32 L685.69,976.00 L686.73,975.69 L687.76,975.38 L688.80,975.07 L689.84,974.78 L690.88,974.48 L691.91,974.20 L692.95,973.92 L693.99,973.64 L695.03,973.38 L696.06,973.12 L697.10,972.87 L698.14,972.63 L699.17,972.39 L700.21,972.17 L701.25,971.95 L702.29,971.74 L703.33,971.54 L704.36,971.36 L705.40,971.18 L706.44,971.01 L707.47,970.85 L708.51,970.70 L709.55,970.56 L710.59,970.43 L711.62,970.31 L712.66,970.21 L713.70,970.11 L714.74,970.03 L715.78,969.95 L716.81,969.89 L717.85,969.84 L718.88,969.80 L719.91,969.77 L720.95,969.76 L722.00,969.75 L723.07,969.76 L724.15,969.77 L725.23,969.80 L726.32,969.84 L727.40,969.89 L728.47,969.95 L729.55,970.03 L730.63,970.11 L731.71,970.21 L732.79,970.31 L733.87,970.43 L734.95,970.56 L736.03,970.70 L737.11,970.85 L738.19,971.01 L739.27,971.18 L740.35,971.36 L741.42,971.54 L742.50,971.74 L743.58,971.95 L744.66,972.17 L745.74,972.39 L746.82,972.63 L747.90,972.87 L748.98,973.12 L750.06,973.38 L751.14,973.64 L752.22,973.92 L753.30,974.20 L754.38,974.48 L755.45,974.78 L756.53,975.07 L757.61,975.38 L758.69,975.69 L759.77,976.00 L760.85,976.32 L761.93,976.65 L763.01,976.98 L764.09,977.31 L765.17,977.64 L766.25,977.98 L767.33,978.32 L768.40,978.67 L769.48,979.01 L770.57,979.36 L771.67,979.71 L772.75,980.06 L773.80,980.40 L774.80,980.72 L775.77,981.04 L776.73,981.34 L777.69,981.65 L778.66,981.96 L779.64,982.27 L780.61,982.58 L781.58,982.89 L782.56,983.19 L783.53,983.49 L784.50,983.78 L785.48,984.07 L786.45,984.36 L787.42,984.65 L788.39,984.93 L789.37,985.20 L790.34,985.47 L791.31,985.74 L792.29,985.99 L793.26,986.25 L794.23,986.49 L795.20,986.73 L796.18,986.96 L797.15,987.19 L798.12,987.41 L799.10,987.62 L800.07,987.82 L801.04,988.02 L802.01,988.21 L802.99,988.38 L803.96,988.56 L804.93,988.72 L805.91,988.87 L806.88,989.01 L807.85,989.15 L808.83,989.27 L809.80,989.39 L810.77,989.49 L811.74,989.59 L812.72,989.68 L813.69,989.75 L814.66,989.82 L815.64,989.87 L816.61,989.92 L817.57,989.96 L818.53,989.98 L819.50,990.00 L820.50,990.00 L821.54,990.00 L822.60,989.98 L823.68,989.96 L824.75,989.92 L825.81,989.87 L826.88,989.82 L827.94,989.75 L829.00,989.68 L830.06,989.59 L831.12,989.49 L832.19,989.39 L833.25,989.27 L834.31,989.15 L835.38,989.01 L836.44,988.87 L837.50,988.72 L838.56,988.56 L839.62,988.38 L840.69,988.21 L841.75,988.02 L842.81,987.82 L843.88,987.62 L844.94,987.41 L846.00,987.19 L847.06,986.96 L848.12,986.73 L849.19,986.49 L850.25,986.25 L851.31,985.99 L852.38,985.74 L853.44,985.47 L854.50,985.20 L855.56,984.93 L856.62,984.65 L857.69,984.36 L858.75,984.07 L859.81,983.78 L860.88,983.49 L861.94,983.19 L863.00,982.89 L864.06,982.58 L865.12,982.27 L866.19,981.96 L867.25,981.65 L868.32,981.33 L869.38,981.01 L870.45,980.69 L871.50,980.40 L872.54,980.14 L873.57,979.90 L874.60,979.67 L875.62,979.44 L876.66,979.21 L877.69,978.97 L878.72,978.73 L879.75,978.50 L880.78,978.27 L881.81,978.04 L882.84,977.82 L883.88,977.59 L884.91,977.37 L885.94,977.16 L886.97,976.94 L888.00,976.73 L889.03,976.53 L890.06,976.33 L891.09,976.13 L892.12,975.94 L893.16,975.75 L894.19,975.56 L895.22,975.39 L896.25,975.21 L897.28,975.05 L898.31,974.89 L899.34,974.73 L900.38,974.58 L901.41,974.44 L902.44,974.30 L903.47,974.17 L904.50,974.05 L905.53,973.93 L906.56,973.82 L907.59,973.72 L908.62,973.63 L909.66,973.54 L910.69,973.46 L911.72,973.38 L912.75,973.32 L913.78,973.26 L914.81,973.21 L915.84,973.16 L916.88,973.13 L917.90,973.10 L918.92,973.08 L919.95,973.07 L921.00,973.07 L922.08,973.07 L923.17,973.08 L924.28,973.10 L925.38,973.13 L926.47,973.16 L927.56,973.21 L928.66,973.26 L929.75,973.32 L930.84,973.38 L931.94,973.46 L933.03,973.54 L934.12,973.63 L935.22,973.72 L936.31,973.82 L937.41,973.93 L938.50,974.05 L939.59,974.17 L940.69,974.30 L941.78,974.44 L942.88,974.58 L943.97,974.73 L945.06,974.89 L946.16,975.05 L947.25,975.21 L948.34,975.39 L949.44,975.56 L950.53,975.75 L951.62,975.94 L952.72,976.13 L953.81,976.33 L954.91,976.53 L956.00,976.73 L957.09,976.94 L958.19,977.16 L959.28,977.37 L960.38,977.59 L961.47,977.82 L962.56,978.04 L963.66,978.27 L964.75,978.50 L965.84,978.73 L966.94,978.97 L968.03,979.21 L969.12,979.44 L970.28,979.69 L971.48,979.94 L972.59,980.18 L973.50,980.40 L974.12,980.58 L974.53,980.73 L974.86,980.87 L975.22,981.02 L975.66,981.17 L976.09,981.32 L976.52,981.47 L976.95,981.62 L977.38,981.77 L977.81,981.92 L978.24,982.06 L978.68,982.20 L979.11,982.35 L979.54,982.49 L979.97,982.62 L980.40,982.76 L980.83,982.89 L981.26,983.02 L981.69,983.15 L982.12,983.27 L982.56,983.39 L982.99,983.51 L983.42,983.62 L983.85,983.73 L984.28,983.84 L984.71,983.94 L985.14,984.04 L985.58,984.14 L986.01,984.23 L986.44,984.32 L986.87,984.40 L987.30,984.48 L987.73,984.56 L988.16,984.63 L988.59,984.69 L989.03,984.76 L989.46,984.81 L989.89,984.86 L990.32,984.91 L990.75,984.95 L991.18,984.99 L991.61,985.02 L992.04,985.05 L992.47,985.07 L992.95,985.09 L993.45,985.10 L993.89,985.11 L994.20,985.11" fill="none" stroke="#ff0000" stroke-width="2.05"  stroke-linejoin="round"/>
<path d="M105.90,985.00 L106.02,979.23 L106.19,971.06 L106.39,961.12 L106.60,950.00 L106.79,938.00 L106.99,924.75 L107.24,909.88 L107.60,893.00 L108.09,873.36 L108.67,851.38 L109.34,828.45 L110.10,806.00 L111.02,782.74 L112.08,758.47 L113.13,736.21 L114.00,719.00 L114.62,708.52 L115.09,702.87 L115.51,699.66 L116.00,696.50 L116.59,692.90 L117.23,690.09 L117.88,688.25 L118.50,687.60 L119.09,688.25 L119.66,690.09 L120.22,692.90 L120.80,696.50 L121.33,699.66 L121.83,702.87 L122.41,708.52 L123.20,719.00 L124.17,736.21 L125.28,758.47 L126.60,782.74 L128.20,806.00 L130.17,828.22 L132.46,850.75 L134.89,872.66 L137.30,893.00 L139.84,912.25 L142.52,930.67 L145.02,947.00 L147.00,960.00 L148.21,968.21 L148.87,972.68 L149.40,975.88 L150.20,980.30 L151.41,986.58 L152.81,993.41 L154.25,1000.33 L155.60,1006.90 L156.79,1013.05 L157.89,1018.99 L159.03,1024.74 L160.30,1030.30 L161.76,1035.70 L163.36,1040.93 L164.99,1045.92 L166.60,1050.60 L168.01,1055.05 L169.31,1059.28 L170.81,1063.09 L172.80,1066.25 L175.48,1068.76 L178.66,1070.72 L182.03,1072.08 L185.30,1072.80 L188.43,1072.86 L191.55,1072.29 L194.68,1071.12 L197.80,1069.40 L200.85,1067.03 L203.86,1064.01 L206.96,1060.57 L210.30,1056.90 L213.98,1053.00 L217.90,1048.79 L221.92,1044.33 L225.90,1039.70 L229.82,1034.88 L233.75,1029.84 L237.68,1024.66 L241.60,1019.40 L245.60,1013.93 L249.65,1008.26 L253.58,1002.68 L257.20,997.50 L260.59,992.57 L263.79,987.80 L266.63,983.58 L268.90,980.30 L270.39,978.33 L271.25,977.38 L271.86,976.83 L272.60,976.07 L273.52,975.00 L274.45,973.93 L275.37,972.87 L276.30,971.81 L277.22,970.77 L278.15,969.74 L279.08,968.71 L280.00,967.70 L280.93,966.71 L281.85,965.73 L282.77,964.76 L283.70,963.81 L284.62,962.88 L285.55,961.97 L286.47,961.08 L287.40,960.20 L288.32,959.36 L289.25,958.53 L290.18,957.72 L291.10,956.94 L292.03,956.19 L292.95,955.46 L293.88,954.76 L294.80,954.08 L295.73,953.44 L296.65,952.82 L297.57,952.23 L298.50,951.67 L299.43,951.14 L300.35,950.65 L301.27,950.18 L302.20,949.75 L303.12,949.35 L304.05,948.99 L304.97,948.65 L305.90,948.36 L306.82,948.09 L307.75,947.86 L308.68,947.67 L309.60,947.51 L310.50,947.39 L311.38,947.30 L312.30,947.24 L313.30,947.23 L314.42,947.24 L315.62,947.30 L316.86,947.39 L318.08,947.51 L319.28,947.67 L320.48,947.86 L321.67,948.09 L322.87,948.36 L324.06,948.65 L325.26,948.99 L326.45,949.35 L327.65,949.75 L328.85,950.18 L330.04,950.65 L331.24,951.14 L332.43,951.67 L333.63,952.23 L334.83,952.82 L336.02,953.44 L337.22,954.08 L338.41,954.76 L339.61,955.46 L340.80,956.19 L342.00,956.94 L343.20,957.72 L344.39,958.53 L345.59,959.36 L346.78,960.20 L347.98,961.08 L349.17,961.97 L350.37,962.88 L351.57,963.81 L352.76,964.76 L353.96,965.73 L355.15,966.71 L356.35,967.70 L357.55,968.71 L358.74,969.74 L359.94,970.77 L361.13,971.81 L362.33,972.87 L363.52,973.93 L364.72,975.00 L365.92,976.07 L367.13,977.18 L368.36,978.33 L369.56,979.42 L370.70,980.40 L371.74,981.21 L372.72,981.90 L373.67,982.54 L374.63,983.20 L375.62,983.90 L376.60,984.59 L377.58,985.28 L378.57,985.96 L379.55,986.63 L380.53,987.30 L381.52,987.97 L382.50,988.62 L383.48,989.26 L384.47,989.90 L385.45,990.52 L386.43,991.14 L387.42,991.74 L388.40,992.33 L389.38,992.91 L390.37,993.47 L391.35,994.02 L392.33,994.56 L393.32,995.08 L394.30,995.59 L395.28,996.07 L396.27,996.55 L397.25,997.00 L398.23,997.44 L399.22,997.86 L400.20,998.26 L401.18,998.64 L402.17,999.00 L403.15,999.34 L404.13,999.66 L405.12,999.96 L406.10,1000.24 L407.08,1000.50 L408.07,1000.74 L409.05,1000.95 L410.03,1001.14 L411.02,1001.31 L412.00,1001.46 L412.98,1001.59 L413.97,1001.69 L414.94,1001.77 L415.89,1001.83 L416.87,1001.86 L417.90,1001.88 L418.99,1001.86 L420.14,1001.83 L421.30,1001.77 L422.45,1001.69 L423.59,1001.59 L424.73,1001.46 L425.86,1001.31 L427.00,1001.14 L428.14,1000.95 L429.27,1000.74 L430.41,1000.50 L431.55,1000.24 L432.69,999.96 L433.82,999.66 L434.96,999.34 L436.10,999.00 L437.24,998.64 L438.38,998.26 L439.51,997.86 L440.65,997.44 L441.79,997.00 L442.92,996.55 L444.06,996.07 L445.20,995.59 L446.34,995.08 L447.48,994.56 L448.61,994.02 L449.75,993.47 L450.89,992.91 L452.02,992.33 L453.16,991.74 L454.30,991.14 L455.44,990.52 L456.58,989.90 L457.71,989.26 L458.85,988.62 L459.99,987.97 L461.12,987.30 L462.26,986.63 L463.40,985.96 L464.54,985.28 L465.67,984.59 L466.81,983.90 L467.95,983.20 L469.10,982.49 L470.26,981.76 L471.40,981.05 L472.50,980.40 L473.54,979.84 L474.54,979.34 L475.52,978.86 L476.52,978.37 L477.52,977.87 L478.53,977.37 L479.53,976.87 L480.53,976.38 L481.54,975.89 L482.54,975.41 L483.55,974.93 L484.55,974.45 L485.55,973.99 L486.56,973.53 L487.56,973.07 L488.57,972.63 L489.57,972.19 L490.57,971.77 L491.58,971.35 L492.58,970.94 L493.59,970.54 L494.59,970.15 L495.60,969.78 L496.60,969.41 L497.60,969.06 L498.61,968.72 L499.61,968.39 L500.62,968.07 L501.62,967.77 L502.62,967.48 L503.63,967.20 L504.63,966.94 L505.64,966.70 L506.64,966.46 L507.65,966.25 L508.65,966.04 L509.65,965.86 L510.66,965.69 L511.66,965.53 L512.67,965.39 L513.67,965.27 L514.68,965.16 L515.68,965.07 L516.68,964.99 L517.68,964.94 L518.67,964.89 L519.67,964.87 L520.70,964.86 L521.77,964.87 L522.86,964.89 L523.97,964.94 L525.07,964.99 L526.16,965.07 L527.25,965.16 L528.34,965.27 L529.43,965.39 L530.53,965.53 L531.62,965.69 L532.71,965.86 L533.80,966.04 L534.89,966.25 L535.98,966.46 L537.08,966.70 L538.17,966.94 L539.26,967.20 L540.35,967.48 L541.44,967.77 L542.53,968.07 L543.63,968.39 L544.72,968.72 L545.81,969.06 L546.90,969.41 L547.99,969.78 L549.08,970.15 L550.18,970.54 L551.27,970.94 L552.36,971.35 L553.45,971.77 L554.54,972.19 L555.63,972.63 L556.73,973.07 L557.82,973.53 L558.91,973.99 L560.00,974.45 L561.09,974.93 L562.18,975.41 L563.27,975.89 L564.37,976.38 L565.46,976.87 L566.55,977.37 L567.64,977.87 L568.73,978.37 L569.84,978.88 L570.95,979.40 L572.04,979.91 L573.10,980.40 L574.11,980.85 L575.08,981.29 L576.03,981.71 L576.99,982.13 L577.96,982.56 L578.94,982.99 L579.91,983.41 L580.88,983.83 L581.86,984.25 L582.83,984.67 L583.80,985.07 L584.78,985.48 L585.75,985.88 L586.72,986.27 L587.69,986.66 L588.67,987.03 L589.64,987.41 L590.61,987.77 L591.59,988.13 L592.56,988.48 L593.53,988.82 L594.50,989.15 L595.48,989.47 L596.45,989.78 L597.42,990.08 L598.40,990.38 L599.37,990.66 L600.34,990.93 L601.31,991.19 L602.29,991.43 L603.26,991.67 L604.23,991.89 L605.21,992.10 L606.18,992.30 L607.15,992.49 L608.12,992.66 L609.10,992.82 L610.07,992.97 L611.04,993.10 L612.02,993.22 L612.99,993.32 L613.96,993.41 L614.94,993.49 L615.91,993.56 L616.87,993.61 L617.82,993.64 L618.79,993.66 L619.80,993.67 L620.86,993.66 L621.95,993.64 L623.06,993.61 L624.17,993.56 L625.26,993.49 L626.35,993.41 L627.44,993.32 L628.53,993.22 L629.62,993.10 L630.72,992.97 L631.81,992.82 L632.90,992.66 L633.99,992.49 L635.08,992.30 L636.17,992.10 L637.27,991.89 L638.36,991.67 L639.45,991.43 L640.54,991.19 L641.63,990.93 L642.73,990.66 L643.82,990.38 L644.91,990.08 L646.00,989.78 L647.09,989.47 L648.18,989.15 L649.27,988.82 L650.37,988.48 L651.46,988.13 L652.55,987.77 L653.64,987.41 L654.73,987.03 L655.83,986.66 L656.92,986.27 L658.01,985.88 L659.10,985.48 L660.19,985.07 L661.28,984.67 L662.38,984.25 L663.47,983.83 L664.56,983.41 L665.65,982.99 L666.74,982.56 L667.83,982.13 L668.93,981.69 L670.03,981.25 L671.12,980.81 L672.20,980.40 L673.25,980.03 L674.29,979.68 L675.32,979.35 L676.35,979.01 L677.39,978.67 L678.42,978.32 L679.46,977.98 L680.50,977.64 L681.54,977.31 L682.58,976.98 L683.61,976.65 L684.65,976.32 L685.69,976.00 L686.73,975.69 L687.76,975.38 L688.80,975.07 L689.84,974.78 L690.88,974.48 L691.91,974.20 L692.95,973.92 L693.99,973.64 L695.03,973.38 L696.06,973.12 L697.10,972.87 L698.14,972.63 L699.17,972.39 L700.21,972.17 L701.25,971.95 L702.29,971.74 L703.33,971.54 L704.36,971.36 L705.40,971.18 L706.44,971.01 L707.47,970.85 L708.51,970.70 L709.55,970.56 L710.59,970.43 L711.62,970.31 L712.66,970.21 L713.70,970.11 L714.74,970.03 L715.78,969.95 L716.81,969.89 L717.85,969.84 L718.88,969.80 L719.91,969.77 L720.95,969.76 L722.00,969.75 L723.07,969.76 L724.15,969.77 L725.23,969.80 L726.32,969.84 L727.40,969.89 L728.47,969.95 L729.55,970.03 L730.63,970.11 L731.71,970.21 L732.79,970.31 L733.87,970.43 L734.95,970.56 L736.03,970.70 L737.11,970.85 L738.19,971.01 L739.27,971.18 L740.35,971.36 L741.42,971.54 L742.50,971.74 L743.58,971.95 L744.66,972.17 L745.74,972.39 L746.82,972.63 L747.90,972.87 L748.98,973.12 L750.06,973.38 L751.14,973.64 L752.22,973.92 L753.30,974.20 L754.38,974.48 L755.45,974.78 L756.53,975.07 L757.61,975.38 L758.69,975.69 L759.77,976.00 L760.85,976.32 L761.93,976.65 L763.01,976.98 L764.09,977.31 L765.17,977.64 L766.25,977.98 L767.33,978.32 L768.40,978.67 L769.48,979.01 L770.57,979.36 L771.67,979.71 L772.75,980.06 L773.80,980.40 L774.80,980.72 L775.77,981.04 L776.73,981.34 L777.69,981.65 L778.66,981.96 L779.64,982.27 L780.61,982.58 L781.58,982.89 L782.56,983.19 L783.53,983.49 L784.50,983.78 L785.48,984.07 L786.45,984.36 L787.42,984.65 L788.39,984.93 L789.37,985.20 L790.34,985.47 L791.31,985.74 L792.29,985.99 L793.26,986.25 L794.23,986.49 L795.20,986.73 L796.18,986.96 L797.15,987.19 L798.12,987.41 L799.10,987.62 L800.07,987.82 L801.04,988.02 L802.01,988.21 L802.99,988.38 L803.96,988.56 L804.93,988.72 L805.91,988.87 L806.88,989.01 L807.85,989.15 L808.83,989.27 L809.80,989.39 L810.77,989.49 L811.74,989.59 L812.72,989.68 L813.69,989.75 L814.66,989.82 L815.64,989.87 L816.61,989.92 L817.57,989.96 L818.53,989.98 L819.50,990.00 L820.50,990.00 L821.54,990.00 L822.60,989.98 L823.68,989.96 L824.75,989.92 L825.81,989.87 L826.88,989.82 L827.94,989.75 L829.00,989.68 L830.06,989.59 L831.12,989.49 L832.19,989.39 L833.25,989.27 L834.31,989.15 L835.38,989.01 L836.44,988.87 L837.50,988.72 L838.56,988.56 L839.62,988.38 L840.69,988.21 L841.75,988.02 L842.81,987.82 L843.88,987.62 L844.94,987.41 L846.00,987.19 L847.06,986.96 L848.12,986.73 L849.19,986.49 L850.25,986.25 L851.31,985.99 L852.38,985.74 L853.44,985.47 L854.50,985.20 L855.56,984.93 L856.62,984.65 L857.69,984.36 L858.75,984.07 L859.81,983.78 L860.88,983.49 L861.94,983.19 L863.00,982.89 L864.06,982.58 L865.12,982.27 L866.19,981.96 L867.25,981.65 L868.32,981.33 L869.38,981.01 L870.45,980.69 L871.50,980.40 L872.54,980.14 L873.57,979.90 L874.60,979.67 L875.62,979.44 L876.66,979.21 L877.69,978.97 L878.72,978.73 L879.75,978.50 L880.78,978.27 L881.81,978.04 L882.84,977.82 L883.88,977.59 L884.91,977.37 L885.94,977.16 L886.97,976.94 L888.00,976.73 L889.03,976.53 L890.06,976.33 L891.09,976.13 L892.12,975.94 L893.16,975.75 L894.19,975.56 L895.22,975.39 L896.25,975.21 L897.28,975.05 L898.31,974.89 L899.34,974.73 L900.38,974.58 L901.41,974.44 L902.44,974.30 L903.47,974.17 L904.50,974.05 L905.53,973.93 L906.56,973.82 L907.59,973.72 L908.62,973.63 L909.66,973.54 L910.69,973.46 L911.72,973.38 L912.75,973.32 L913.78,973.26 L914.81,973.21 L915.84,973.16 L916.88,973.13 L917.90,973.10 L918.92,973.08 L919.95,973.07 L921.00,973.07 L922.08,973.07 L923.17,973.08 L924.28,973.10 L925.38,973.13 L926.47,973.16 L927.56,973.21 L928.66,973.26 L929.75,973.32 L930.84,973.38 L931.94,973.46 L933.03,973.54 L934.12,973.63 L935.22,973.72 L936.31,973.82 L937.41,973.93 L938.50,974.05 L939.59,974.17 L940.69,974.30 L941.78,974.44 L942.88,974.58 L943.97,974.73 L945.06,974.89 L946.16,975.05 L947.25,975.21 L948.34,975.39 L949.44,975.56 L950.53,975.75 L951.62,975.94 L952.72,976.13 L953.81,976.33 L954.91,976.53 L956.00,976.73 L957.09,976.94 L958.19,977.16 L959.28,977.37 L960.38,977.59 L961.47,977.82 L962.56,978.04 L963.66,978.27 L964.75,978.50 L965.84,978.73 L966.94,978.97 L968.03,979.21 L969.12,979.44 L970.28,979.69 L971.48,979.94 L972.59,980.18 L973.50,980.40 L974.12,980.58 L974.53,980.73 L974.86,980.87 L975.22,981.02 L975.66,981.17 L976.09,981.32 L976.52,981.47 L976.95,981.62 L977.38,981.77 L977.81,981.92 L978.24,982.06 L978.68,982.20 L979.11,982.35 L979.54,982.49 L979.97,982.62 L980.40,982.76 L980.83,982.89 L981.26,983.02 L981.69,983.15 L982.12,983.27 L982.56,983.39 L982.99,983.51 L983.42,983.62 L983.85,983.73 L984.28,983.84 L984.71,983.94 L985.14,984.04 L985.58,984.14 L986.01,984.23 L986.44,984.32 L986.87,984.40 L987.30,984.48 L987.73,984.56 L988.16,984.63 L988.59,984.69 L989.03,984.76 L989.46,984.81 L989.89,984.86 L990.32,984.91 L990.75,984.95 L991.18,984.99 L991.61,985.02 L992.04,985.05 L992.47,985.07 L992.95,985.09 L993.45,985.10 L993.89,985.11 L994.20,985.11" fill="none" stroke="#00ff00" stroke-width="2.05" stroke-dasharray="10.5 8.8" stroke-linejoin="round"/>
<path d="M105.90,985.00 L106.02,979.23 L106.19,971.06 L106.39,961.12 L106.60,950.00 L106.79,938.00 L106.99,924.75 L107.24,909.88 L107.60,893.00 L108.09,873.36 L108.67,851.38 L109.34,828.45 L110.10,806.00 L111.02,782.74 L112.08,758.47 L113.13,736.21 L114.00,719.00 L114.62,708.52 L115.09,702.87 L115.51,699.66 L116.00,696.50 L116.59,692.90 L117.23,690.09 L117.88,688.25 L118.50,687.60 L119.09,688.25 L119.66,690.09 L120.22,692.90 L120.80,696.50 L121.33,699.66 L121.83,702.87 L122.41,708.52 L123.20,719.00 L124.17,736.21 L125.28,758.47 L126.60,782.74 L128.20,806.00 L130.17,828.22 L132.46,850.75 L134.89,872.66 L137.30,893.00 L139.84,912.25 L142.52,930.67 L145.02,947.00 L147.00,960.00 L148.21,968.21 L148.87,972.68 L149.40,975.88 L150.20,980.30 L151.41,986.58 L152.81,993.41 L154.25,1000.33 L155.60,1006.90 L156.79,1013.05 L157.89,1018.99 L159.03,1024.74 L160.30,1030.30 L161.76,1035.70 L163.36,1040.93 L164.99,1045.92 L166.60,1050.60 L168.01,1055.05 L169.31,1059.28 L170.81,1063.09 L172.80,1066.25 L175.48,1068.76 L178.66,1070.72 L182.03,1072.08 L185.30,1072.80 L188.43,1072.86 L191.55,1072.29 L194.68,1071.12 L197.80,1069.40 L200.85,1067.03 L203.86,1064.01 L206.96,1060.57 L210.30,1056.90 L213.98,1053.00 L217.90,1048.79 L221.92,1044.33 L225.90,1039.70 L229.82,1034.88 L233.75,1029.84 L237.68,1024.66 L241.60,1019.40 L245.60,1013.93 L249.65,1008.26 L253.58,1002.68 L257.20,997.50 L260.59,992.57 L263.79,987.80 L266.63,983.58 L268.90,980.30 L270.39,978.33 L271.25,977.38 L271.86,976.83 L272.60,976.07 L273.52,975.00 L274.45,973.93 L275.37,972.87 L276.30,971.81 L277.22,970.77 L278.15,969.74 L279.08,968.71 L280.00,967.70 L280.93,966.71 L281.85,965.73 L282.77,964.76 L283.70,963.81 L284.62,962.88 L285.55,961.97 L286.47,961.08 L287.40,960.20 L288.32,959.36 L289.25,958.53 L290.18,957.72 L291.10,956.94 L292.03,956.19 L292.95,955.46 L293.88,954.76 L294.80,954.08 L295.73,953.44 L296.65,952.82 L297.57,952.23 L298.50,951.67 L299.43,951.14 L300.35,950.65 L301.27,950.18 L302.20,949.75 L303.12,949.35 L304.05,948.99 L304.97,948.65 L305.90,948.36 L306.82,948.09 L307.75,947.86 L308.68,947.67 L309.60,947.51 L310.50,947.39 L311.38,947.30 L312.30,947.24 L313.30,947.23 L314.42,947.24 L315.62,947.30 L316.86,947.39 L318.08,947.51 L319.28,947.67 L320.48,947.86 L321.67,948.09 L322.87,948.36 L324.06,948.65 L325.26,948.99 L326.45,949.35 L327.65,949.75 L328.85,950.18 L330.04,950.65 L331.24,951.14 L332.43,951.67 L333.63,952.23 L334.83,952.82 L336.02,953.44 L337.22,954.08 L338.41,954.76 L339.61,955.46 L340.80,956.19 L342.00,956.94 L343.20,957.72 L344.39,958.53 L345.59,959.36 L346.78,960.20 L347.98,961.08 L349.17,961.97 L350.37,962.88 L351.57,963.81 L352.76,964.76 L353.96,965.73 L355.15,966.71 L356.35,967.70 L357.55,968.71 L358.74,969.74 L359.94,970.77 L361.13,971.81 L362.33,972.87 L363.52,973.93 L364.72,975.00 L365.92,976.07 L367.13,977.18 L368.36,978.33 L369.56,979.42 L370.70,980.40 L371.74,981.21 L372.72,981.90 L373.67,982.54 L374.63,983.20 L375.62,983.90 L376.60,984.59 L377.58,985.28 L378.57,985.96 L379.55,986.63 L380.53,987.30 L381.52,987.97 L382.50,988.62 L383.48,989.26 L384.47,989.90 L385.45,990.52 L386.43,991.14 L387.42,991.74 L388.40,992.33 L389.38,992.91 L390.37,993.47 L391.35,994.02 L392.33,994.56 L393.32,995.08 L394.30,995.59 L395.28,996.07 L396.27,996.55 L397.25,997.00 L398.23,997.44 L399.22,997.86 L400.20,998.26 L401.18,998.64 L402.17,999.00 L403.15,999.34 L404.13,999.66 L405.12,999.96 L406.10,1000.24 L407.08,1000.50 L408.07,1000.74 L409.05,1000.95 L410.03,1001.14 L411.02,1001.31 L412.00,1001.46 L412.98,1001.59 L413.97,1001.69 L414.94,1001.77 L415.89,1001.83 L416.87,1001.86 L417.90,1001.88 L418.99,1001.86 L420.14,1001.83 L421.30,1001.77 L422.45,1001.69 L423.59,1001.59 L424.73,1001.46 L425.86,1001.31 L427.00,1001.14 L428.14,1000.95 L429.27,1000.74 L430.41,1000.50 L431.55,1000.24 L432.69,999.96 L433.82,999.66 L434.96,999.34 L436.10,999.00 L437.24,998.64 L438.38,998.26 L439.51,997.86 L440.65,997.44 L441.79,997.00 L442.92,996.55 L444.06,996.07 L445.20,995.59 L446.34,995.08 L447.48,994.56 L448.61,994.02 L449.75,993.47 L450.89,992.91 L452.02,992.33 L453.16,991.74 L454.30,991.14 L455.44,990.52 L456.58,989.90 L457.71,989.26 L458.85,988.62 L459.99,987.97 L461.12,987.30 L462.26,986.63 L463.40,985.96 L464.54,985.28 L465.67,984.59 L466.81,983.90 L467.95,983.20 L469.10,982.49 L470.26,981.76 L471.40,981.05 L472.50,980.40 L473.54,979.84 L474.54,979.34 L475.52,978.86 L476.52,978.37 L477.52,977.87 L478.53,977.37 L479.53,976.87 L480.53,976.38 L481.54,975.89 L482.54,975.41 L483.55,974.93 L484.55,974.45 L485.55,973.99 L486.56,973.53 L487.56,973.07 L488.57,972.63 L489.57,972.19 L490.57,971.77 L491.58,971.35 L492.58,970.94 L493.59,970.54 L494.59,970.15 L495.60,969.78 L496.60,969.41 L497.60,969.06 L498.61,968.72 L499.61,968.39 L500.62,968.07 L501.62,967.77 L502.62,967.48 L503.63,967.20 L504.63,966.94 L505.64,966.70 L506.64,966.46 L507.65,966.25 L508.65,966.04 L509.65,965.86 L510.66,965.69 L511.66,965.53 L512.67,965.39 L513.67,965.27 L514.68,965.16 L515.68,965.07 L516.68,964.99 L517.68,964.94 L518.67,964.89 L519.67,964.87 L520.70,964.86 L521.77,964.87 L522.86,964.89 L523.97,964.94 L525.07,964.99 L526.16,965.07 L527.25,965.16 L528.34,965.27 L529.43,965.39 L530.53,965.53 L531.62,965.69 L532.71,965.86 L533.80,966.04 L534.89,966.25 L535.98,966.46 L537.08,966.70 L538.17,966.94 L539.26,967.20 L540.35,967.48 L541.44,967.77 L542.53,968.07 L543.63,968.39 L544.72,968.72 L545.81,969.06 L546.90,969.41 L547.99,969.78 L549.08,970.15 L550.18,970.54 L551.27,970.94 L552.36,971.35 L553.45,971.77 L554.54,972.19 L555.63,972.63 L556.73,973.07 L557.82,973.53 L558.91,973.99 L560.00,974.45 L561.09,974.93 L562.18,975.41 L563.27,975.89 L564.37,976.38 L565.46,976.87 L566.55,977.37 L567.64,977.87 L568.73,978.37 L569.84,978.88 L570.95,979.40 L572.04,979.91 L573.10,980.40 L574.11,980.85 L575.08,981.29 L576.03,981.71 L576.99,982.13 L577.96,982.56 L578.94,982.99 L579.91,983.41 L580.88,983.83 L581.86,984.25 L582.83,984.67 L583.80,985.07 L584.78,985.48 L585.75,985.88 L586.72,986.27 L587.69,986.66 L588.67,987.03 L589.64,987.41 L590.61,987.77 L591.59,988.13 L592.56,988.48 L593.53,988.82 L594.50,989.15 L595.48,989.47 L596.45,989.78 L597.42,990.08 L598.40,990.38 L599.37,990.66 L600.34,990.93 L601.31,991.19 L602.29,991.43 L603.26,991.67 L604.23,991.89 L605.21,992.10 L606.18,992.30 L607.15,992.49 L608.12,992.66 L609.10,992.82 L610.07,992.97 L611.04,993.10 L612.02,993.22 L612.99,993.32 L613.96,993.41 L614.94,993.49 L615.91,993.56 L616.87,993.61 L617.82,993.64 L618.79,993.66 L619.80,993.67 L620.86,993.66 L621.95,993.64 L623.06,993.61 L624.17,993.56 L625.26,993.49 L626.35,993.41 L627.44,993.32 L628.53,993.22 L629.62,993.10 L630.72,992.97 L631.81,992.82 L632.90,992.66 L633.99,992.49 L635.08,992.30 L636.17,992.10 L637.27,991.89 L638.36,991.67 L639.45,991.43 L640.54,991.19 L641.63,990.93 L642.73,990.66 L643.82,990.38 L644.91,990.08 L646.00,989.78 L647.09,989.47 L648.18,989.15 L649.27,988.82 L650.37,988.48 L651.46,988.13 L652.55,987.77 L653.64,987.41 L654.73,987.03 L655.83,986.66 L656.92,986.27 L658.01,985.88 L659.10,985.48 L660.19,985.07 L661.28,984.67 L662.38,984.25 L663.47,983.83 L664.56,983.41 L665.65,982.99 L666.74,982.56 L667.83,982.13 L668.93,981.69 L670.03,981.25 L671.12,980.81 L672.20,980.40 L673.25,980.03 L674.29,979.68 L675.32,979.35 L676.35,979.01 L677.39,978.67 L678.42,978.32 L679.46,977.98 L680.50,977.64 L681.54,977.31 L682.58,976.98 L683.61,976.65 L684.65,976.32 L685.69,976.00 L686.73,975.69 L687.76,975.38 L688.80,975.07 L689.84,974.78 L690.88,974.48 L691.91,974.20 L692.95,973.92 L693.99,973.64 L695.03,973.38 L696.06,973.12 L697.10,972.87 L698.14,972.63 L699.17,972.39 L700.21,972.17 L701.25,971.95 L702.29,971.74 L703.33,971.54 L704.36,971.36 L705.40,971.18 L706.44,971.01 L707.47,970.85 L708.51,970.70 L709.55,970.56 L710.59,970.43 L711.62,970.31 L712.66,970.21 L713.70,970.11 L714.74,970.03 L715.78,969.95 L716.81,969.89 L717.85,969.84 L718.88,969.80 L719.91,969.77 L720.95,969.76 L722.00,969.75 L723.07,969.76 L724.15,969.77 L725.23,969.80 L726.32,969.84 L727.40,969.89 L728.47,969.95 L729.55,970.03 L730.63,970.11 L731.71,970.21 L732.79,970.31 L733.87,970.43 L734.95,970.56 L736.03,970.70 L737.11,970.85 L738.19,971.01 L739.27,971.18 L740.35,971.36 L741.42,971.54 L742.50,971.74 L743.58,971.95 L744.66,972.17 L745.74,972.39 L746.82,972.63 L747.90,972.87 L748.98,973.12 L750.06,973.38 L751.14,973.64 L752.22,973.92 L753.30,974.20 L754.38,974.48 L755.45,974.78 L756.53,975.07 L757.61,975.38 L758.69,975.69 L759.77,976.00 L760.85,976.32 L761.93,976.65 L763.01,976.98 L764.09,977.31 L765.17,977.64 L766.25,977.98 L767.33,978.32 L768.40,978.67 L769.48,979.01 L770.57,979.36 L771.67,979.71 L772.75,980.06 L773.80,980.40 L774.80,980.72 L775.77,981.04 L776.73,981.34 L777.69,981.65 L778.66,981.96 L779.64,982.27 L780.61,982.58 L781.58,982.89 L782.56,983.19 L783.53,983.49 L784.50,983.78 L785.48,984.07 L786.45,984.36 L787.42,984.65 L788.39,984.93 L789.37,985.20 L790.34,985.47 L791.31,985.74 L792.29,985.99 L793.26,986.25 L794.23,986.49 L795.20,986.73 L796.18,986.96 L797.15,987.19 L798.12,987.41 L799.10,987.62 L800.07,987.82 L801.04,988.02 L802.01,988.21 L802.99,988.38 L803.96,988.56 L804.93,988.72 L805.91,988.87 L806.88,989.01 L807.85,989.15 L808.83,989.27 L809.80,989.39 L810.77,989.49 L811.74,989.59 L812.72,989.68 L813.69,989.75 L814.66,989.82 L815.64,989.87 L816.61,989.92 L817.57,989.96 L818.53,989.98 L819.50,990.00 L820.50,990.00 L821.54,990.00 L822.60,989.98 L823.68,989.96 L824.75,989.92 L825.81,989.87 L826.88,989.82 L827.94,989.75 L829.00,989.68 L830.06,989.59 L831.12,989.49 L832.19,989.39 L833.25,989.27 L834.31,989.15 L835.38,989.01 L836.44,988.87 L837.50,988.72 L838.56,988.56 L839.62,988.38 L840.69,988.21 L841.75,988.02 L842.81,987.82 L843.88,987.62 L844.94,987.41 L846.00,987.19 L847.06,986.96 L848.12,986.73 L849.19,986.49 L850.25,986.25 L851.31,985.99 L852.38,985.74 L853.44,985.47 L854.50,985.20 L855.56,984.93 L856.62,984.65 L857.69,984.36 L858.75,984.07 L859.81,983.78 L860.88,983.49 L861.94,983.19 L863.00,982.89 L864.06,982.58 L865.12,982.27 L866.19,981.96 L867.25,981.65 L868.32,981.33 L869.38,981.01 L870.45,980.69 L871.50,980.40 L872.54,980.14 L873.57,979.90 L874.60,979.67 L875.62,979.44 L876.66,979.21 L877.69,978.97 L878.72,978.73 L879.75,978.50 L880.78,978.27 L881.81,978.04 L882.84,977.82 L883.88,977.59 L884.91,977.37 L885.94,977.16 L886.97,976.94 L888.00,976.73 L889.03,976.53 L890.06,976.33 L891.09,976.13 L892.12,975.94 L893.16,975.75 L894.19,975.56 L895.22,975.39 L896.25,975.21 L897.28,975.05 L898.31,974.89 L899.34,974.73 L900.38,974.58 L901.41,974.44 L902.44,974.30 L903.47,974.17 L904.50,974.05 L905.53,973.93 L906.56,973.82 L907.59,973.72 L908.62,973.63 L909.66,973.54 L910.69,973.46 L911.72,973.38 L912.75,973.32 L913.78,973.26 L914.81,973.21 L915.84,973.16 L916.88,973.13 L917.90,973.10 L918.92,973.08 L919.95,973.07 L921.00,973.07 L922.08,973.07 L923.17,973.08 L924.28,973.10 L925.38,973.13 L926.47,973.16 L927.56,973.21 L928.66,973.26 L929.75,973.32 L930.84,973.38 L931.94,973.46 L933.03,973.54 L934.12,973.63 L935.22,973.72 L936.31,973.82 L937.41,973.93 L938.50,974.05 L939.59,974.17 L940.69,974.30 L941.78,974.44 L942.88,974.58 L943.97,974.73 L945.06,974.89 L946.16,975.05 L947.25,975.21 L948.34,975.39 L949.44,975.56 L950.53,975.75 L951.62,975.94 L952.72,976.13 L953.81,976.33 L954.91,976.53 L956.00,976.73 L957.09,976.94 L958.19,977.16 L959.28,977.37 L960.38,977.59 L961.47,977.82 L962.56,978.04 L963.66,978.27 L964.75,978.50 L965.84,978.73 L966.94,978.97 L968.03,979.21 L969.12,979.44 L970.28,979.69 L971.48,979.94 L972.59,980.18 L973.50,980.40 L974.12,980.58 L974.53,980.73 L974.86,980.87 L975.22,981.02 L975.66,981.17 L976.09,981.32 L976.52,981.47 L976.95,981.62 L977.38,981.77 L977.81,981.92 L978.24,982.06 L978.68,982.20 L979.11,982.35 L979.54,982.49 L979.97,982.62 L980.40,982.76 L980.83,982.89 L981.26,983.02 L981.69,983.15 L982.12,983.27 L982.56,983.39 L982.99,983.51 L983.42,983.62 L983.85,983.73 L984.28,983.84 L984.71,983.94 L985.14,984.04 L985.58,984.14 L986.01,984.23 L986.44,984.32 L986.87,984.40 L987.30,984.48 L987.73,984.56 L988.16,984.63 L988.59,984.69 L989.03,984.76 L989.46,984.81 L989.89,984.86 L990.32,984.91 L990.75,984.95 L991.18,984.99 L991.61,985.02 L992.04,985.05 L992.47,985.07 L992.95,985.09 L993.45,985.10 L993.89,985.11 L994.20,985.11" fill="none" stroke="#0000ff" stroke-width="2.35" stroke-dasharray="3 8.7" stroke-linejoin="round"/>
<path d="M105.90,985.00 L106.02,979.23 L106.19,971.06 L106.39,961.12 L106.60,950.00 L106.79,938.00 L106.99,924.75 L107.24,909.88 L107.60,893.00 L108.09,873.36 L108.67,851.38 L109.34,828.45 L110.10,806.00 L111.02,782.74 L112.08,758.47 L113.13,736.21 L114.00,719.00 L114.62,708.52 L115.09,702.87 L115.51,699.66 L116.00,696.50 L116.59,692.90 L117.23,690.09 L117.88,688.25 L118.50,687.60 L119.09,688.25 L119.66,690.09 L120.22,692.90 L120.80,696.50 L121.33,699.66 L121.83,702.87 L122.41,708.52 L123.20,719.00 L124.17,736.21 L125.28,758.47 L126.60,782.74 L128.20,806.00 L130.17,828.22 L132.46,850.75 L134.89,872.66 L137.30,893.00 L139.84,912.25 L142.52,930.67 L145.02,947.00 L147.00,960.00 L148.21,968.21 L148.87,972.68 L149.40,975.88 L150.20,980.30 L151.41,986.58 L152.81,993.41 L154.25,1000.33 L155.60,1006.90 L156.79,1013.05 L157.89,1018.99 L159.03,1024.74 L160.30,1030.30 L161.76,1035.70 L163.36,1040.93 L164.99,1045.92 L166.60,1050.60 L168.01,1055.05 L169.31,1059.28 L170.81,1063.09 L172.80,1066.25 L175.48,1068.76 L178.66,1070.72 L182.03,1072.08 L185.30,1072.80 L188.43,1072.86 L191.55,1072.29 L194.68,1071.12 L197.80,1069.40 L200.85,1067.03 L203.86,1064.01 L206.96,1060.57 L210.30,1056.90 L213.98,1053.00 L217.90,1048.79 L221.92,1044.33 L225.90,1039.70 L229.82,1034.88 L233.75,1029.84 L237.68,1024.66 L241.60,1019.40 L245.60,1013.93 L249.65,1008.26 L253.58,1002.68 L257.20,997.50 L260.59,992.57 L263.79,987.80 L266.63,983.58 L268.90,980.30 L270.39,978.33 L271.25,977.38 L271.86,976.83 L272.60,976.07 L273.52,975.00 L274.45,973.93 L275.37,972.87 L276.30,971.81 L277.22,970.77 L278.15,969.74 L279.08,968.71 L280.00,967.70 L280.93,966.71 L281.85,965.73 L282.77,964.76 L283.70,963.81 L284.62,962.88 L285.55,961.97 L286.47,961.08 L287.40,960.20 L288.32,959.36 L289.25,958.53 L290.18,957.72 L291.10,956.94 L292.03,956.19 L292.95,955.46 L293.88,954.76 L294.80,954.08 L295.73,953.44 L296.65,952.82 L297.57,952.23 L298.50,951.67 L299.43,951.14 L300.35,950.65 L301.27,950.18 L302.20,949.75 L303.12,949.35 L304.05,948.99 L304.97,948.65 L305.90,948.36 L306.82,948.09 L307.75,947.86 L308.68,947.67 L309.60,947.51 L310.50,947.39 L311.38,947.30 L312.30,947.24 L313.30,947.23 L314.42,947.24 L315.62,947.30 L316.86,947.39 L318.08,947.51 L319.28,947.67 L320.48,947.86 L321.67,948.09 L322.87,948.36 L324.06,948.65 L325.26,948.99 L326.45,949.35 L327.65,949.75 L328.85,950.18 L330.04,950.65 L331.24,951.14 L332.43,951.67 L333.63,952.23 L334.83,952.82 L336.02,953.44 L337.22,954.08 L338.41,954.76 L339.61,955.46 L340.80,956.19 L342.00,956.94 L343.20,957.72 L344.39,958.53 L345.59,959.36 L346.78,960.20 L347.98,961.08 L349.17,961.97 L350.37,962.88 L351.57,963.81 L352.76,964.76 L353.96,965.73 L355.15,966.71 L356.35,967.70 L357.55,968.71 L358.74,969.74 L359.94,970.77 L361.13,971.81 L362.33,972.87 L363.52,973.93 L364.72,975.00 L365.92,976.07 L367.13,977.18 L368.36,978.33 L369.56,979.42 L370.70,980.40 L371.74,981.21 L372.72,981.90 L373.67,982.54 L374.63,983.20 L375.62,983.90 L376.60,984.59 L377.58,985.28 L378.57,985.96 L379.55,986.63 L380.53,987.30 L381.52,987.97 L382.50,988.62 L383.48,989.26 L384.47,989.90 L385.45,990.52 L386.43,991.14 L387.42,991.74 L388.40,992.33 L389.38,992.91 L390.37,993.47 L391.35,994.02 L392.33,994.56 L393.32,995.08 L394.30,995.59 L395.28,996.07 L396.27,996.55 L397.25,997.00 L398.23,997.44 L399.22,997.86 L400.20,998.26 L401.18,998.64 L402.17,999.00 L403.15,999.34 L404.13,999.66 L405.12,999.96 L406.10,1000.24 L407.08,1000.50 L408.07,1000.74 L409.05,1000.95 L410.03,1001.14 L411.02,1001.31 L412.00,1001.46 L412.98,1001.59 L413.97,1001.69 L414.94,1001.77 L415.89,1001.83 L416.87,1001.86 L417.90,1001.88 L418.99,1001.86 L420.14,1001.83 L421.30,1001.77 L422.45,1001.69 L423.59,1001.59 L424.73,1001.46 L425.86,1001.31 L427.00,1001.14 L428.14,1000.95 L429.27,1000.74 L430.41,1000.50 L431.55,1000.24 L432.69,999.96 L433.82,999.66 L434.96,999.34 L436.10,999.00 L437.24,998.64 L438.38,998.26 L439.51,997.86 L440.65,997.44 L441.79,997.00 L442.92,996.55 L444.06,996.07 L445.20,995.59 L446.34,995.08 L447.48,994.56 L448.61,994.02 L449.75,993.47 L450.89,992.91 L452.02,992.33 L453.16,991.74 L454.30,991.14 L455.44,990.52 L456.58,989.90 L457.71,989.26 L458.85,988.62 L459.99,987.97 L461.12,987.30 L462.26,986.63 L463.40,985.96 L464.54,985.28 L465.67,984.59 L466.81,983.90 L467.95,983.20 L469.10,982.49 L470.26,981.76 L471.40,981.05 L472.50,980.40 L473.54,979.84 L474.54,979.34 L475.52,978.86 L476.52,978.37 L477.52,977.87 L478.53,977.37 L479.53,976.87 L480.53,976.38 L481.54,975.89 L482.54,975.41 L483.55,974.93 L484.55,974.45 L485.55,973.99 L486.56,973.53 L487.56,973.07 L488.57,972.63 L489.57,972.19 L490.57,971.77 L491.58,971.35 L492.58,970.94 L493.59,970.54 L494.59,970.15 L495.60,969.78 L496.60,969.41 L497.60,969.06 L498.61,968.72 L499.61,968.39 L500.62,968.07 L501.62,967.77 L502.62,967.48 L503.63,967.20 L504.63,966.94 L505.64,966.70 L506.64,966.46 L507.65,966.25 L508.65,966.04 L509.65,965.86 L510.66,965.69 L511.66,965.53 L512.67,965.39 L513.67,965.27 L514.68,965.16 L515.68,965.07 L516.68,964.99 L517.68,964.94 L518.67,964.89 L519.67,964.87 L520.70,964.86 L521.77,964.87 L522.86,964.89 L523.97,964.94 L525.07,964.99 L526.16,965.07 L527.25,965.16 L528.34,965.27 L529.43,965.39 L530.53,965.53 L531.62,965.69 L532.71,965.86 L533.80,966.04 L534.89,966.25 L535.98,966.46 L537.08,966.70 L538.17,966.94 L539.26,967.20 L540.35,967.48 L541.44,967.77 L542.53,968.07 L543.63,968.39 L544.72,968.72 L545.81,969.06 L546.90,969.41 L547.99,969.78 L549.08,970.15 L550.18,970.54 L551.27,970.94 L552.36,971.35 L553.45,971.77 L554.54,972.19 L555.63,972.63 L556.73,973.07 L557.82,973.53 L558.91,973.99 L560.00,974.45 L561.09,974.93 L562.18,975.41 L563.27,975.89 L564.37,976.38 L565.46,976.87 L566.55,977.37 L567.64,977.87 L568.73,978.37 L569.84,978.88 L570.95,979.40 L572.04,979.91 L573.10,980.40 L574.11,980.85 L575.08,981.29 L576.03,981.71 L576.99,982.13 L577.96,982.56 L578.94,982.99 L579.91,983.41 L580.88,983.83 L581.86,984.25 L582.83,984.67 L583.80,985.07 L584.78,985.48 L585.75,985.88 L586.72,986.27 L587.69,986.66 L588.67,987.03 L589.64,987.41 L590.61,987.77 L591.59,988.13 L592.56,988.48 L593.53,988.82 L594.50,989.15 L595.48,989.47 L596.45,989.78 L597.42,990.08 L598.40,990.38 L599.37,990.66 L600.34,990.93 L601.31,991.19 L602.29,991.43 L603.26,991.67 L604.23,991.89 L605.21,992.10 L606.18,992.30 L607.15,992.49 L608.12,992.66 L609.10,992.82 L610.07,992.97 L611.04,993.10 L612.02,993.22 L612.99,993.32 L613.96,993.41 L614.94,993.49 L615.91,993.56 L616.87,993.61 L617.82,993.64 L618.79,993.66 L619.80,993.67 L620.86,993.66 L621.95,993.64 L623.06,993.61 L624.17,993.56 L625.26,993.49 L626.35,993.41 L627.44,993.32 L628.53,993.22 L629.62,993.10 L630.72,992.97 L631.81,992.82 L632.90,992.66 L633.99,992.49 L635.08,992.30 L636.17,992.10 L637.27,991.89 L638.36,991.67 L639.45,991.43 L640.54,991.19 L641.63,990.93 L642.73,990.66 L643.82,990.38 L644.91,990.08 L646.00,989.78 L647.09,989.47 L648.18,989.15 L649.27,988.82 L650.37,988.48 L651.46,988.13 L652.55,987.77 L653.64,987.41 L654.73,987.03 L655.83,986.66 L656.92,986.27 L658.01,985.88 L659.10,985.48 L660.19,985.07 L661.28,984.67 L662.38,984.25 L663.47,983.83 L664.56,983.41 L665.65,982.99 L666.74,982.56 L667.83,982.13 L668.93,981.69 L670.03,981.25 L671.12,980.81 L672.20,980.40 L673.25,980.03 L674.29,979.68 L675.32,979.35 L676.35,979.01 L677.39,978.67 L678.42,978.32 L679.46,977.98 L680.50,977.64 L681.54,977.31 L682.58,976.98 L683.61,976.65 L684.65,976.32 L685.69,976.00 L686.73,975.69 L687.76,975.38 L688.80,975.07 L689.84,974.78 L690.88,974.48 L691.91,974.20 L692.95,973.92 L693.99,973.64 L695.03,973.38 L696.06,973.12 L697.10,972.87 L698.14,972.63 L699.17,972.39 L700.21,972.17 L701.25,971.95 L702.29,971.74 L703.33,971.54 L704.36,971.36 L705.40,971.18 L706.44,971.01 L707.47,970.85 L708.51,970.70 L709.55,970.56 L710.59,970.43 L711.62,970.31 L712.66,970.21 L713.70,970.11 L714.74,970.03 L715.78,969.95 L716.81,969.89 L717.85,969.84 L718.88,969.80 L719.91,969.77 L720.95,969.76 L722.00,969.75 L723.07,969.76 L724.15,969.77 L725.23,969.80 L726.32,969.84 L727.40,969.89 L728.47,969.95 L729.55,970.03 L730.63,970.11 L731.71,970.21 L732.79,970.31 L733.87,970.43 L734.95,970.56 L736.03,970.70 L737.11,970.85 L738.19,971.01 L739.27,971.18 L740.35,971.36 L741.42,971.54 L742.50,971.74 L743.58,971.95 L744.66,972.17 L745.74,972.39 L746.82,972.63 L747.90,972.87 L748.98,973.12 L750.06,973.38 L751.14,973.64 L752.22,973.92 L753.30,974.20 L754.38,974.48 L755.45,974.78 L756.53,975.07 L757.61,975.38 L758.69,975.69 L759.77,976.00 L760.85,976.32 L761.93,976.65 L763.01,976.98 L764.09,977.31 L765.17,977.64 L766.25,977.98 L767.33,978.32 L768.40,978.67 L769.48,979.01 L770.57,979.36 L771.67,979.71 L772.75,980.06 L773.80,980.40 L774.80,980.72 L775.77,981.04 L776.73,981.34 L777.69,981.65 L778.66,981.96 L779.64,982.27 L780.61,982.58 L781.58,982.89 L782.56,983.19 L783.53,983.49 L784.50,983.78 L785.48,984.07 L786.45,984.36 L787.42,984.65 L788.39,984.93 L789.37,985.20 L790.34,985.47 L791.31,985.74 L792.29,985.99 L793.26,986.25 L794.23,986.49 L795.20,986.73 L796.18,986.96 L797.15,987.19 L798.12,987.41 L799.10,987.62 L800.07,987.82 L801.04,988.02 L802.01,988.21 L802.99,988.38 L803.96,988.56 L804.93,988.72 L805.91,988.87 L806.88,989.01 L807.85,989.15 L808.83,989.27 L809.80,989.39 L810.77,989.49 L811.74,989.59 L812.72,989.68 L813.69,989.75 L814.66,989.82 L815.64,989.87 L816.61,989.92 L817.57,989.96 L818.53,989.98 L819.50,990.00 L820.50,990.00 L821.54,990.00 L822.60,989.98 L823.68,989.96 L824.75,989.92 L825.81,989.87 L826.88,989.82 L827.94,989.75 L829.00,989.68 L830.06,989.59 L831.12,989.49 L832.19,989.39 L833.25,989.27 L834.31,989.15 L835.38,989.01 L836.44,988.87 L837.50,988.72 L838.56,988.56 L839.62,988.38 L840.69,988.21 L841.75,988.02 L842.81,987.82 L843.88,987.62 L844.94,987.41 L846.00,987.19 L847.06,986.96 L848.12,986.73 L849.19,986.49 L850.25,986.25 L851.31,985.99 L852.38,985.74 L853.44,985.47 L854.50,985.20 L855.56,984.93 L856.62,984.65 L857.69,984.36 L858.75,984.07 L859.81,983.78 L860.88,983.49 L861.94,983.19 L863.00,982.89 L864.06,982.58 L865.12,982.27 L866.19,981.96 L867.25,981.65 L868.32,981.33 L869.38,981.01 L870.45,980.69 L871.50,980.40 L872.54,980.14 L873.57,979.90 L874.60,979.67 L875.62,979.44 L876.66,979.21 L877.69,978.97 L878.72,978.73 L879.75,978.50 L880.78,978.27 L881.81,978.04 L882.84,977.82 L883.88,977.59 L884.91,977.37 L885.94,977.16 L886.97,976.94 L888.00,976.73 L889.03,976.53 L890.06,976.33 L891.09,976.13 L892.12,975.94 L893.16,975.75 L894.19,975.56 L895.22,975.39 L896.25,975.21 L897.28,975.05 L898.31,974.89 L899.34,974.73 L900.38,974.58 L901.41,974.44 L902.44,974.30 L903.47,974.17 L904.50,974.05 L905.53,973.93 L906.56,973.82 L907.59,973.72 L908.62,973.63 L909.66,973.54 L910.69,973.46 L911.72,973.38 L912.75,973.32 L913.78,973.26 L914.81,973.21 L915.84,973.16 L916.88,973.13 L917.90,973.10 L918.92,973.08 L919.95,973.07 L921.00,973.07 L922.08,973.07 L923.17,973.08 L924.28,973.10 L925.38,973.13 L926.47,973.16 L927.56,973.21 L928.66,973.26 L929.75,973.32 L930.84,973.38 L931.94,973.46 L933.03,973.54 L934.12,973.63 L935.22,973.72 L936.31,973.82 L937.41,973.93 L938.50,974.05 L939.59,974.17 L940.69,974.30 L941.78,974.44 L942.88,974.58 L943.97,974.73 L945.06,974.89 L946.16,975.05 L947.25,975.21 L948.34,975.39 L949.44,975.56 L950.53,975.75 L951.62,975.94 L952.72,976.13 L953.81,976.33 L954.91,976.53 L956.00,976.73 L957.09,976.94 L958.19,977.16 L959.28,977.37 L960.38,977.59 L961.47,977.82 L962.56,978.04 L963.66,978.27 L964.75,978.50 L965.84,978.73 L966.94,978.97 L968.03,979.21 L969.12,979.44 L970.28,979.69 L971.48,979.94 L972.59,980.18 L973.50,980.40 L974.12,980.58 L974.53,980.73 L974.86,980.87 L975.22,981.02 L975.66,981.17 L976.09,981.32 L976.52,981.47 L976.95,981.62 L977.38,981.77 L977.81,981.92 L978.24,982.06 L978.68,982.20 L979.11,982.35 L979.54,982.49 L979.97,982.62 L980.40,982.76 L980.83,982.89 L981.26,983.02 L981.69,983.15 L982.12,983.27 L982.56,983.39 L982.99,983.51 L983.42,983.62 L983.85,983.73 L984.28,983.84 L984.71,983.94 L985.14,984.04 L985.58,984.14 L986.01,984.23 L986.44,984.32 L986.87,984.40 L987.30,984.48 L987.73,984.56 L988.16,984.63 L988.59,984.69 L989.03,984.76 L989.46,984.81 L989.89,984.86 L990.32,984.91 L990.75,984.95 L991.18,984.99 L991.61,985.02 L992.04,985.05 L992.47,985.07 L992.95,985.09 L993.45,985.10 L993.89,985.11 L994.20,985.11" fill="none" stroke="#ff00ff" stroke-width="2.15" stroke-dasharray="12 4.5 3.5 4.5" stroke-linejoin="round"/>
<path d="M105.90,985.00 L106.02,979.23 L106.19,971.06 L106.39,961.12 L106.60,950.00 L106.79,938.00 L106.99,924.75 L107.24,909.88 L107.60,893.00 L108.09,873.36 L108.67,851.38 L109.34,828.45 L110.10,806.00 L111.02,782.74 L112.08,758.47 L113.13,736.21 L114.00,719.00 L114.62,708.52 L115.09,702.87 L115.51,699.66 L116.00,696.50 L116.59,692.90 L117.23,690.09 L117.88,688.25 L118.50,687.60 L119.09,688.25 L119.66,690.09 L120.22,692.90 L120.80,696.50 L121.33,699.66 L121.83,702.87 L122.41,708.52 L123.20,719.00 L124.17,736.21 L125.28,758.47 L126.60,782.74 L128.20,806.00 L130.17,828.22 L132.46,850.75 L134.89,872.66 L137.30,893.00 L139.84,912.25 L142.52,930.67 L145.02,947.00 L147.00,960.00 L148.21,968.21 L148.87,972.68 L149.40,975.88 L150.20,980.30 L151.41,986.58 L152.81,993.41 L154.25,1000.33 L155.60,1006.90 L156.79,1013.05 L157.89,1018.99 L159.03,1024.74 L160.30,1030.30 L161.76,1035.70 L163.36,1040.93 L164.99,1045.92 L166.60,1050.60 L168.01,1055.05 L169.31,1059.28 L170.81,1063.09 L172.80,1066.25 L175.48,1068.76 L178.66,1070.72 L182.03,1072.08 L185.30,1072.80 L188.43,1072.86 L191.55,1072.29 L194.68,1071.12 L197.80,1069.40 L200.85,1067.03 L203.86,1064.01 L206.96,1060.57 L210.30,1056.90 L213.98,1053.00 L217.90,1048.79 L221.92,1044.33 L225.90,1039.70 L229.82,1034.88 L233.75,1029.84 L237.68,1024.66 L241.60,1019.40 L245.60,1013.93 L249.65,1008.26 L253.58,1002.68 L257.20,997.50 L260.59,992.57 L263.79,987.80 L266.63,983.58 L268.90,980.30 L270.39,978.33 L271.25,977.38 L271.86,976.83 L272.60,976.07 L273.52,975.00 L274.45,973.93 L275.37,972.87 L276.30,971.81 L277.22,970.77 L278.15,969.74 L279.08,968.71 L280.00,967.70 L280.93,966.71 L281.85,965.73 L282.77,964.76 L283.70,963.81 L284.62,962.88 L285.55,961.97 L286.47,961.08 L287.40,960.20 L288.32,959.36 L289.25,958.53 L290.18,957.72 L291.10,956.94 L292.03,956.19 L292.95,955.46 L293.88,954.76 L294.80,954.08 L295.73,953.44 L296.65,952.82 L297.57,952.23 L298.50,951.67 L299.43,951.14 L300.35,950.65 L301.27,950.18 L302.20,949.75 L303.12,949.35 L304.05,948.99 L304.97,948.65 L305.90,948.36 L306.82,948.09 L307.75,947.86 L308.68,947.67 L309.60,947.51 L310.50,947.39 L311.38,947.30 L312.30,947.24 L313.30,947.23 L314.42,947.24 L315.62,947.30 L316.86,947.39 L318.08,947.51 L319.28,947.67 L320.48,947.86 L321.67,948.09 L322.87,948.36 L324.06,948.65 L325.26,948.99 L326.45,949.35 L327.65,949.75 L328.85,950.18 L330.04,950.65 L331.24,951.14 L332.43,951.67 L333.63,952.23 L334.83,952.82 L336.02,953.44 L337.22,954.08 L338.41,954.76 L339.61,955.46 L340.80,956.19 L342.00,956.94 L343.20,957.72 L344.39,958.53 L345.59,959.36 L346.78,960.20 L347.98,961.08 L349.17,961.97 L350.37,962.88 L351.57,963.81 L352.76,964.76 L353.96,965.73 L355.15,966.71 L356.35,967.70 L357.55,968.71 L358.74,969.74 L359.94,970.77 L361.13,971.81 L362.33,972.87 L363.52,973.93 L364.72,975.00 L365.92,976.07 L367.13,977.18 L368.36,978.33 L369.56,979.42 L370.70,980.40 L371.74,981.21 L372.72,981.90 L373.67,982.54 L374.63,983.20 L375.62,983.90 L376.60,984.59 L377.58,985.28 L378.57,985.96 L379.55,986.63 L380.53,987.30 L381.52,987.97 L382.50,988.62 L383.48,989.26 L384.47,989.90 L385.45,990.52 L386.43,991.14 L387.42,991.74 L388.40,992.33 L389.38,992.91 L390.37,993.47 L391.35,994.02 L392.33,994.56 L393.32,995.08 L394.30,995.59 L395.28,996.07 L396.27,996.55 L397.25,997.00 L398.23,997.44 L399.22,997.86 L400.20,998.26 L401.18,998.64 L402.17,999.00 L403.15,999.34 L404.13,999.66 L405.12,999.96 L406.10,1000.24 L407.08,1000.50 L408.07,1000.74 L409.05,1000.95 L410.03,1001.14 L411.02,1001.31 L412.00,1001.46 L412.98,1001.59 L413.97,1001.69 L414.94,1001.77 L415.89,1001.83 L416.87,1001.86 L417.90,1001.88 L418.99,1001.86 L420.14,1001.83 L421.30,1001.77 L422.45,1001.69 L423.59,1001.59 L424.73,1001.46 L425.86,1001.31 L427.00,1001.14 L428.14,1000.95 L429.27,1000.74 L430.41,1000.50 L431.55,1000.24 L432.69,999.96 L433.82,999.66 L434.96,999.34 L436.10,999.00 L437.24,998.64 L438.38,998.26 L439.51,997.86 L440.65,997.44 L441.79,997.00 L442.92,996.55 L444.06,996.07 L445.20,995.59 L446.34,995.08 L447.48,994.56 L448.61,994.02 L449.75,993.47 L450.89,992.91 L452.02,992.33 L453.16,991.74 L454.30,991.14 L455.44,990.52 L456.58,989.90 L457.71,989.26 L458.85,988.62 L459.99,987.97 L461.12,987.30 L462.26,986.63 L463.40,985.96 L464.54,985.28 L465.67,984.59 L466.81,983.90 L467.95,983.20 L469.10,982.49 L470.26,981.76 L471.40,981.05 L472.50,980.40 L473.54,979.84 L474.54,979.34 L475.52,978.86 L476.52,978.37 L477.52,977.87 L478.53,977.37 L479.53,976.87 L480.53,976.38 L481.54,975.89 L482.54,975.41 L483.55,974.93 L484.55,974.45 L485.55,973.99 L486.56,973.53 L487.56,973.07 L488.57,972.63 L489.57,972.19 L490.57,971.77 L491.58,971.35 L492.58,970.94 L493.59,970.54 L494.59,970.15 L495.60,969.78 L496.60,969.41 L497.60,969.06 L498.61,968.72 L499.61,968.39 L500.62,968.07 L501.62,967.77 L502.62,967.48 L503.63,967.20 L504.63,966.94 L505.64,966.70 L506.64,966.46 L507.65,966.25 L508.65,966.04 L509.65,965.86 L510.66,965.69 L511.66,965.53 L512.67,965.39 L513.67,965.27 L514.68,965.16 L515.68,965.07 L516.68,964.99 L517.68,964.94 L518.67,964.89 L519.67,964.87 L520.70,964.86 L521.77,964.87 L522.86,964.89 L523.97,964.94 L525.07,964.99 L526.16,965.07 L527.25,965.16 L528.34,965.27 L529.43,965.39 L530.53,965.53 L531.62,965.69 L532.71,965.86 L533.80,966.04 L534.89,966.25 L535.98,966.46 L537.08,966.70 L538.17,966.94 L539.26,967.20 L540.35,967.48 L541.44,967.77 L542.53,968.07 L543.63,968.39 L544.72,968.72 L545.81,969.06 L546.90,969.41 L547.99,969.78 L549.08,970.15 L550.18,970.54 L551.27,970.94 L552.36,971.35 L553.45,971.77 L554.54,972.19 L555.63,972.63 L556.73,973.07 L557.82,973.53 L558.91,973.99 L560.00,974.45 L561.09,974.93 L562.18,975.41 L563.27,975.89 L564.37,976.38 L565.46,976.87 L566.55,977.37 L567.64,977.87 L568.73,978.37 L569.84,978.88 L570.95,979.40 L572.04,979.91 L573.10,980.40 L574.11,980.85 L575.08,981.29 L576.03,981.71 L576.99,982.13 L577.96,982.56 L578.94,982.99 L579.91,983.41 L580.88,983.83 L581.86,984.25 L582.83,984.67 L583.80,985.07 L584.78,985.48 L585.75,985.88 L586.72,986.27 L587.69,986.66 L588.67,987.03 L589.64,987.41 L590.61,987.77 L591.59,988.13 L592.56,988.48 L593.53,988.82 L594.50,989.15 L595.48,989.47 L596.45,989.78 L597.42,990.08 L598.40,990.38 L599.37,990.66 L600.34,990.93 L601.31,991.19 L602.29,991.43 L603.26,991.67 L604.23,991.89 L605.21,992.10 L606.18,992.30 L607.15,992.49 L608.12,992.66 L609.10,992.82 L610.07,992.97 L611.04,993.10 L612.02,993.22 L612.99,993.32 L613.96,993.41 L614.94,993.49 L615.91,993.56 L616.87,993.61 L617.82,993.64 L618.79,993.66 L619.80,993.67 L620.86,993.66 L621.95,993.64 L623.06,993.61 L624.17,993.56 L625.26,993.49 L626.35,993.41 L627.44,993.32 L628.53,993.22 L629.62,993.10 L630.72,992.97 L631.81,992.82 L632.90,992.66 L633.99,992.49 L635.08,992.30 L636.17,992.10 L637.27,991.89 L638.36,991.67 L639.45,991.43 L640.54,991.19 L641.63,990.93 L642.73,990.66 L643.82,990.38 L644.91,990.08 L646.00,989.78 L647.09,989.47 L648.18,989.15 L649.27,988.82 L650.37,988.48 L651.46,988.13 L652.55,987.77 L653.64,987.41 L654.73,987.03 L655.83,986.66 L656.92,986.27 L658.01,985.88 L659.10,985.48 L660.19,985.07 L661.28,984.67 L662.38,984.25 L663.47,983.83 L664.56,983.41 L665.65,982.99 L666.74,982.56 L667.83,982.13 L668.93,981.69 L670.03,981.25 L671.12,980.81 L672.20,980.40 L673.25,980.03 L674.29,979.68 L675.32,979.35 L676.35,979.01 L677.39,978.67 L678.42,978.32 L679.46,977.98 L680.50,977.64 L681.54,977.31 L682.58,976.98 L683.61,976.65 L684.65,976.32 L685.69,976.00 L686.73,975.69 L687.76,975.38 L688.80,975.07 L689.84,974.78 L690.88,974.48 L691.91,974.20 L692.95,973.92 L693.99,973.64 L695.03,973.38 L696.06,973.12 L697.10,972.87 L698.14,972.63 L699.17,972.39 L700.21,972.17 L701.25,971.95 L702.29,971.74 L703.33,971.54 L704.36,971.36 L705.40,971.18 L706.44,971.01 L707.47,970.85 L708.51,970.70 L709.55,970.56 L710.59,970.43 L711.62,970.31 L712.66,970.21 L713.70,970.11 L714.74,970.03 L715.78,969.95 L716.81,969.89 L717.85,969.84 L718.88,969.80 L719.91,969.77 L720.95,969.76 L722.00,969.75 L723.07,969.76 L724.15,969.77 L725.23,969.80 L726.32,969.84 L727.40,969.89 L728.47,969.95 L729.55,970.03 L730.63,970.11 L731.71,970.21 L732.79,970.31 L733.87,970.43 L734.95,970.56 L736.03,970.70 L737.11,970.85 L738.19,971.01 L739.27,971.18 L740.35,971.36 L741.42,971.54 L742.50,971.74 L743.58,971.95 L744.66,972.17 L745.74,972.39 L746.82,972.63 L747.90,972.87 L748.98,973.12 L750.06,973.38 L751.14,973.64 L752.22,973.92 L753.30,974.20 L754.38,974.48 L755.45,974.78 L756.53,975.07 L757.61,975.38 L758.69,975.69 L759.77,976.00 L760.85,976.32 L761.93,976.65 L763.01,976.98 L764.09,977.31 L765.17,977.64 L766.25,977.98 L767.33,978.32 L768.40,978.67 L769.48,979.01 L770.57,979.36 L771.67,979.71 L772.75,980.06 L773.80,980.40 L774.80,980.72 L775.77,981.04 L776.73,981.34 L777.69,981.65 L778.66,981.96 L779.64,982.27 L780.61,982.58 L781.58,982.89 L782.56,983.19 L783.53,983.49 L784.50,983.78 L785.48,984.07 L786.45,984.36 L787.42,984.65 L788.39,984.93 L789.37,985.20 L790.34,985.47 L791.31,985.74 L792.29,985.99 L793.26,986.25 L794.23,986.49 L795.20,986.73 L796.18,986.96 L797.15,987.19 L798.12,987.41 L799.10,987.62 L800.07,987.82 L801.04,988.02 L802.01,988.21 L802.99,988.38 L803.96,988.56 L804.93,988.72 L805.91,988.87 L806.88,989.01 L807.85,989.15 L808.83,989.27 L809.80,989.39 L810.77,989.49 L811.74,989.59 L812.72,989.68 L813.69,989.75 L814.66,989.82 L815.64,989.87 L816.61,989.92 L817.57,989.96 L818.53,989.98 L819.50,990.00 L820.50,990.00 L821.54,990.00 L822.60,989.98 L823.68,989.96 L824.75,989.92 L825.81,989.87 L826.88,989.82 L827.94,989.75 L829.00,989.68 L830.06,989.59 L831.12,989.49 L832.19,989.39 L833.25,989.27 L834.31,989.15 L835.38,989.01 L836.44,988.87 L837.50,988.72 L838.56,988.56 L839.62,988.38 L840.69,988.21 L841.75,988.02 L842.81,987.82 L843.88,987.62 L844.94,987.41 L846.00,987.19 L847.06,986.96 L848.12,986.73 L849.19,986.49 L850.25,986.25 L851.31,985.99 L852.38,985.74 L853.44,985.47 L854.50,985.20 L855.56,984.93 L856.62,984.65 L857.69,984.36 L858.75,984.07 L859.81,983.78 L860.88,983.49 L861.94,983.19 L863.00,982.89 L864.06,982.58 L865.12,982.27 L866.19,981.96 L867.25,981.65 L868.32,981.33 L869.38,981.01 L870.45,980.69 L871.50,980.40 L872.54,980.14 L873.57,979.90 L874.60,979.67 L875.62,979.44 L876.66,979.21 L877.69,978.97 L878.72,978.73 L879.75,978.50 L880.78,978.27 L881.81,978.04 L882.84,977.82 L883.88,977.59 L884.91,977.37 L885.94,977.16 L886.97,976.94 L888.00,976.73 L889.03,976.53 L890.06,976.33 L891.09,976.13 L892.12,975.94 L893.16,975.75 L894.19,975.56 L895.22,975.39 L896.25,975.21 L897.28,975.05 L898.31,974.89 L899.34,974.73 L900.38,974.58 L901.41,974.44 L902.44,974.30 L903.47,974.17 L904.50,974.05 L905.53,973.93 L906.56,973.82 L907.59,973.72 L908.62,973.63 L909.66,973.54 L910.69,973.46 L911.72,973.38 L912.75,973.32 L913.78,973.26 L914.81,973.21 L915.84,973.16 L916.88,973.13 L917.90,973.10 L918.92,973.08 L919.95,973.07 L921.00,973.07 L922.08,973.07 L923.17,973.08 L924.28,973.10 L925.38,973.13 L926.47,973.16 L927.56,973.21 L928.66,973.26 L929.75,973.32 L930.84,973.38 L931.94,973.46 L933.03,973.54 L934.12,973.63 L935.22,973.72 L936.31,973.82 L937.41,973.93 L938.50,974.05 L939.59,974.17 L940.69,974.30 L941.78,974.44 L942.88,974.58 L943.97,974.73 L945.06,974.89 L946.16,975.05 L947.25,975.21 L948.34,975.39 L949.44,975.56 L950.53,975.75 L951.62,975.94 L952.72,976.13 L953.81,976.33 L954.91,976.53 L956.00,976.73 L957.09,976.94 L958.19,977.16 L959.28,977.37 L960.38,977.59 L961.47,977.82 L962.56,978.04 L963.66,978.27 L964.75,978.50 L965.84,978.73 L966.94,978.97 L968.03,979.21 L969.12,979.44 L970.28,979.69 L971.48,979.94 L972.59,980.18 L973.50,980.40 L974.12,980.58 L974.53,980.73 L974.86,980.87 L975.22,981.02 L975.66,981.17 L976.09,981.32 L976.52,981.47 L976.95,981.62 L977.38,981.77 L977.81,981.92 L978.24,982.06 L978.68,982.20 L979.11,982.35 L979.54,982.49 L979.97,982.62 L980.40,982.76 L980.83,982.89 L981.26,983.02 L981.69,983.15 L982.12,983.27 L982.56,983.39 L982.99,983.51 L983.42,983.62 L983.85,983.73 L984.28,983.84 L984.71,983.94 L985.14,984.04 L985.58,984.14 L986.01,984.23 L986.44,984.32 L986.87,984.40 L987.30,984.48 L987.73,984.56 L988.16,984.63 L988.59,984.69 L989.03,984.76 L989.46,984.81 L989.89,984.86 L990.32,984.91 L990.75,984.95 L991.18,984.99 L991.61,985.02 L992.04,985.05 L992.47,985.07 L992.95,985.09 L993.45,985.10 L993.89,985.11 L994.20,985.11" fill="none" stroke="#00ffff" stroke-width="2.15" stroke-dasharray="9.5 4.8 3.5 4.4 3.5 4.4" stroke-linejoin="round"/>
<path d="M105.90,985.00 L106.02,979.23 L106.19,971.06 L106.39,961.12 L106.60,950.00 L106.79,938.00 L106.99,924.75 L107.24,909.88 L107.60,893.00 L108.09,873.36 L108.67,851.38 L109.34,828.45 L110.10,806.00 L111.02,782.74 L112.08,758.47 L113.13,736.21 L114.00,719.00 L114.62,708.52 L115.09,702.87 L115.51,699.66 L116.00,696.50 L116.59,692.90 L117.23,690.09 L117.88,688.25 L118.50,687.60 L119.09,688.25 L119.66,690.09 L120.22,692.90 L120.80,696.50 L121.33,699.66 L121.83,702.87 L122.41,708.52 L123.20,719.00 L124.17,736.21 L125.28,758.47 L126.60,782.74 L128.20,806.00 L130.17,828.22 L132.46,850.75 L134.89,872.66 L137.30,893.00 L139.84,912.25 L142.52,930.67 L145.02,947.00 L147.00,960.00 L148.21,968.21 L148.87,972.68 L149.40,975.88 L150.20,980.30 L151.41,986.58 L152.81,993.41 L154.25,1000.33 L155.60,1006.90 L156.79,1013.05 L157.89,1018.99 L159.03,1024.74 L160.30,1030.30 L161.76,1035.70 L163.36,1040.93 L164.99,1045.92 L166.60,1050.60 L168.01,1055.05 L169.31,1059.28 L170.81,1063.09 L172.80,1066.25 L175.48,1068.76 L178.66,1070.72 L182.03,1072.08 L185.30,1072.80 L188.43,1072.86 L191.55,1072.29 L194.68,1071.12 L197.80,1069.40 L200.85,1067.03 L203.86,1064.01 L206.96,1060.57 L210.30,1056.90 L213.98,1053.00 L217.90,1048.79 L221.92,1044.33 L225.90,1039.70 L229.82,1034.88 L233.75,1029.84 L237.68,1024.66 L241.60,1019.40 L245.60,1013.93 L249.65,1008.26 L253.58,1002.68 L257.20,997.50 L260.59,992.57 L263.79,987.80 L266.63,983.58 L268.90,980.30 L270.39,978.33 L271.25,977.38 L271.86,976.83 L272.60,976.07 L273.52,975.00 L274.45,973.93 L275.37,972.87 L276.30,971.81 L277.22,970.77 L278.15,969.74 L279.08,968.71 L280.00,967.70 L280.93,966.71 L281.85,965.73 L282.77,964.76 L283.70,963.81 L284.62,962.88 L285.55,961.97 L286.47,961.08 L287.40,960.20 L288.32,959.36 L289.25,958.53 L290.18,957.72 L291.10,956.94 L292.03,956.19 L292.95,955.46 L293.88,954.76 L294.80,954.08 L295.73,953.44 L296.65,952.82 L297.57,952.23 L298.50,951.67 L299.43,951.14 L300.35,950.65 L301.27,950.18 L302.20,949.75 L303.12,949.35 L304.05,948.99 L304.97,948.65 L305.90,948.36 L306.82,948.09 L307.75,947.86 L308.68,947.67 L309.60,947.51 L310.50,947.39 L311.38,947.30 L312.30,947.24 L313.30,947.23 L314.42,947.24 L315.62,947.30 L316.86,947.39 L318.08,947.51 L319.28,947.67 L320.48,947.86 L321.67,948.09 L322.87,948.36 L324.06,948.65 L325.26,948.99 L326.45,949.35 L327.65,949.75 L328.85,950.18 L330.04,950.65 L331.24,951.14 L332.43,951.67 L333.63,952.23 L334.83,952.82 L336.02,953.44 L337.22,954.08 L338.41,954.76 L339.61,955.46 L340.80,956.19 L342.00,956.94 L343.20,957.72 L344.39,958.53 L345.59,959.36 L346.78,960.20 L347.98,961.08 L349.17,961.97 L350.37,962.88 L351.57,963.81 L352.76,964.76 L353.96,965.73 L355.15,966.71 L356.35,967.70 L357.55,968.71 L358.74,969.74 L359.94,970.77 L361.13,971.81 L362.33,972.87 L363.52,973.93 L364.72,975.00 L365.92,976.07 L367.13,977.18 L368.36,978.33 L369.56,979.42 L370.70,980.40 L371.74,981.21 L372.72,981.90 L373.67,982.54 L374.63,983.20 L375.62,983.90 L376.60,984.59 L377.58,985.28 L378.57,985.96 L379.55,986.63 L380.53,987.30 L381.52,987.97 L382.50,988.62 L383.48,989.26 L384.47,989.90 L385.45,990.52 L386.43,991.14 L387.42,991.74 L388.40,992.33 L389.38,992.91 L390.37,993.47 L391.35,994.02 L392.33,994.56 L393.32,995.08 L394.30,995.59 L395.28,996.07 L396.27,996.55 L397.25,997.00 L398.23,997.44 L399.22,997.86 L400.20,998.26 L401.18,998.64 L402.17,999.00 L403.15,999.34 L404.13,999.66 L405.12,999.96 L406.10,1000.24 L407.08,1000.50 L408.07,1000.74 L409.05,1000.95 L410.03,1001.14 L411.02,1001.31 L412.00,1001.46 L412.98,1001.59 L413.97,1001.69 L414.94,1001.77 L415.89,1001.83 L416.87,1001.86 L417.90,1001.88 L418.99,1001.86 L420.14,1001.83 L421.30,1001.77 L422.45,1001.69 L423.59,1001.59 L424.73,1001.46 L425.86,1001.31 L427.00,1001.14 L428.14,1000.95 L429.27,1000.74 L430.41,1000.50 L431.55,1000.24 L432.69,999.96 L433.82,999.66 L434.96,999.34 L436.10,999.00 L437.24,998.64 L438.38,998.26 L439.51,997.86 L440.65,997.44 L441.79,997.00 L442.92,996.55 L444.06,996.07 L445.20,995.59 L446.34,995.08 L447.48,994.56 L448.61,994.02 L449.75,993.47 L450.89,992.91 L452.02,992.33 L453.16,991.74 L454.30,991.14 L455.44,990.52 L456.58,989.90 L457.71,989.26 L458.85,988.62 L459.99,987.97 L461.12,987.30 L462.26,986.63 L463.40,985.96 L464.54,985.28 L465.67,984.59 L466.81,983.90 L467.95,983.20 L469.10,982.49 L470.26,981.76 L471.40,981.05 L472.50,980.40 L473.54,979.84 L474.54,979.34 L475.52,978.86 L476.52,978.37 L477.52,977.87 L478.53,977.37 L479.53,976.87 L480.53,976.38 L481.54,975.89 L482.54,975.41 L483.55,974.93 L484.55,974.45 L485.55,973.99 L486.56,973.53 L487.56,973.07 L488.57,972.63 L489.57,972.19 L490.57,971.77 L491.58,971.35 L492.58,970.94 L493.59,970.54 L494.59,970.15 L495.60,969.78 L496.60,969.41 L497.60,969.06 L498.61,968.72 L499.61,968.39 L500.62,968.07 L501.62,967.77 L502.62,967.48 L503.63,967.20 L504.63,966.94 L505.64,966.70 L506.64,966.46 L507.65,966.25 L508.65,966.04 L509.65,965.86 L510.66,965.69 L511.66,965.53 L512.67,965.39 L513.67,965.27 L514.68,965.16 L515.68,965.07 L516.68,964.99 L517.68,964.94 L518.67,964.89 L519.67,964.87 L520.70,964.86 L521.77,964.87 L522.86,964.89 L523.97,964.94 L525.07,964.99 L526.16,965.07 L527.25,965.16 L528.34,965.27 L529.43,965.39 L530.53,965.53 L531.62,965.69 L532.71,965.86 L533.80,966.04 L534.89,966.25 L535.98,966.46 L537.08,966.70 L538.17,966.94 L539.26,967.20 L540.35,967.48 L541.44,967.77 L542.53,968.07 L543.63,968.39 L544.72,968.72 L545.81,969.06 L546.90,969.41 L547.99,969.78 L549.08,970.15 L550.18,970.54 L551.27,970.94 L552.36,971.35 L553.45,971.77 L554.54,972.19 L555.63,972.63 L556.73,973.07 L557.82,973.53 L558.91,973.99 L560.00,974.45 L561.09,974.93 L562.18,975.41 L563.27,975.89 L564.37,976.38 L565.46,976.87 L566.55,977.37 L567.64,977.87 L568.73,978.37 L569.84,978.88 L570.95,979.40 L572.04,979.91 L573.10,980.40 L574.11,980.85 L575.08,981.29 L576.03,981.71 L576.99,982.13 L577.96,982.56 L578.94,982.99 L579.91,983.41 L580.88,983.83 L581.86,984.25 L582.83,984.67 L583.80,985.07 L584.78,985.48 L585.75,985.88 L586.72,986.27 L587.69,986.66 L588.67,987.03 L589.64,987.41 L590.61,987.77 L591.59,988.13 L592.56,988.48 L593.53,988.82 L594.50,989.15 L595.48,989.47 L596.45,989.78 L597.42,990.08 L598.40,990.38 L599.37,990.66 L600.34,990.93 L601.31,991.19 L602.29,991.43 L603.26,991.67 L604.23,991.89 L605.21,992.10 L606.18,992.30 L607.15,992.49 L608.12,992.66 L609.10,992.82 L610.07,992.97 L611.04,993.10 L612.02,993.22 L612.99,993.32 L613.96,993.41 L614.94,993.49 L615.91,993.56 L616.87,993.61 L617.82,993.64 L618.79,993.66 L619.80,993.67 L620.86,993.66 L621.95,993.64 L623.06,993.61 L624.17,993.56 L625.26,993.49 L626.35,993.41 L627.44,993.32 L628.53,993.22 L629.62,993.10 L630.72,992.97 L631.81,992.82 L632.90,992.66 L633.99,992.49 L635.08,992.30 L636.17,992.10 L637.27,991.89 L638.36,991.67 L639.45,991.43 L640.54,991.19 L641.63,990.93 L642.73,990.66 L643.82,990.38 L644.91,990.08 L646.00,989.78 L647.09,989.47 L648.18,989.15 L649.27,988.82 L650.37,988.48 L651.46,988.13 L652.55,987.77 L653.64,987.41 L654.73,987.03 L655.83,986.66 L656.92,986.27 L658.01,985.88 L659.10,985.48 L660.19,985.07 L661.28,984.67 L662.38,984.25 L663.47,983.83 L664.56,983.41 L665.65,982.99 L666.74,982.56 L667.83,982.13 L668.93,981.69 L670.03,981.25 L671.12,980.81 L672.20,980.40 L673.25,980.03 L674.29,979.68 L675.32,979.35 L676.35,979.01 L677.39,978.67 L678.42,978.32 L679.46,977.98 L680.50,977.64 L681.54,977.31 L682.58,976.98 L683.61,976.65 L684.65,976.32 L685.69,976.00 L686.73,975.69 L687.76,975.38 L688.80,975.07 L689.84,974.78 L690.88,974.48 L691.91,974.20 L692.95,973.92 L693.99,973.64 L695.03,973.38 L696.06,973.12 L697.10,972.87 L698.14,972.63 L699.17,972.39 L700.21,972.17 L701.25,971.95 L702.29,971.74 L703.33,971.54 L704.36,971.36 L705.40,971.18 L706.44,971.01 L707.47,970.85 L708.51,970.70 L709.55,970.56 L710.59,970.43 L711.62,970.31 L712.66,970.21 L713.70,970.11 L714.74,970.03 L715.78,969.95 L716.81,969.89 L717.85,969.84 L718.88,969.80 L719.91,969.77 L720.95,969.76 L722.00,969.75 L723.07,969.76 L724.15,969.77 L725.23,969.80 L726.32,969.84 L727.40,969.89 L728.47,969.95 L729.55,970.03 L730.63,970.11 L731.71,970.21 L732.79,970.31 L733.87,970.43 L734.95,970.56 L736.03,970.70 L737.11,970.85 L738.19,971.01 L739.27,971.18 L740.35,971.36 L741.42,971.54 L742.50,971.74 L743.58,971.95 L744.66,972.17 L745.74,972.39 L746.82,972.63 L747.90,972.87 L748.98,973.12 L750.06,973.38 L751.14,973.64 L752.22,973.92 L753.30,974.20 L754.38,974.48 L755.45,974.78 L756.53,975.07 L757.61,975.38 L758.69,975.69 L759.77,976.00 L760.85,976.32 L761.93,976.65 L763.01,976.98 L764.09,977.31 L765.17,977.64 L766.25,977.98 L767.33,978.32 L768.40,978.67 L769.48,979.01 L770.57,979.36 L771.67,979.71 L772.75,980.06 L773.80,980.40 L774.80,980.72 L775.77,981.04 L776.73,981.34 L777.69,981.65 L778.66,981.96 L779.64,982.27 L780.61,982.58 L781.58,982.89 L782.56,983.19 L783.53,983.49 L784.50,983.78 L785.48,984.07 L786.45,984.36 L787.42,984.65 L788.39,984.93 L789.37,985.20 L790.34,985.47 L791.31,985.74 L792.29,985.99 L793.26,986.25 L794.23,986.49 L795.20,986.73 L796.18,986.96 L797.15,987.19 L798.12,987.41 L799.10,987.62 L800.07,987.82 L801.04,988.02 L802.01,988.21 L802.99,988.38 L803.96,988.56 L804.93,988.72 L805.91,988.87 L806.88,989.01 L807.85,989.15 L808.83,989.27 L809.80,989.39 L810.77,989.49 L811.74,989.59 L812.72,989.68 L813.69,989.75 L814.66,989.82 L815.64,989.87 L816.61,989.92 L817.57,989.96 L818.53,989.98 L819.50,990.00 L820.50,990.00 L821.54,990.00 L822.60,989.98 L823.68,989.96 L824.75,989.92 L825.81,989.87 L826.88,989.82 L827.94,989.75 L829.00,989.68 L830.06,989.59 L831.12,989.49 L832.19,989.39 L833.25,989.27 L834.31,989.15 L835.38,989.01 L836.44,988.87 L837.50,988.72 L838.56,988.56 L839.62,988.38 L840.69,988.21 L841.75,988.02 L842.81,987.82 L843.88,987.62 L844.94,987.41 L846.00,987.19 L847.06,986.96 L848.12,986.73 L849.19,986.49 L850.25,986.25 L851.31,985.99 L852.38,985.74 L853.44,985.47 L854.50,985.20 L855.56,984.93 L856.62,984.65 L857.69,984.36 L858.75,984.07 L859.81,983.78 L860.88,983.49 L861.94,983.19 L863.00,982.89 L864.06,982.58 L865.12,982.27 L866.19,981.96 L867.25,981.65 L868.32,981.33 L869.38,981.01 L870.45,980.69 L871.50,980.40 L872.54,980.14 L873.57,979.90 L874.60,979.67 L875.62,979.44 L876.66,979.21 L877.69,978.97 L878.72,978.73 L879.75,978.50 L880.78,978.27 L881.81,978.04 L882.84,977.82 L883.88,977.59 L884.91,977.37 L885.94,977.16 L886.97,976.94 L888.00,976.73 L889.03,976.53 L890.06,976.33 L891.09,976.13 L892.12,975.94 L893.16,975.75 L894.19,975.56 L895.22,975.39 L896.25,975.21 L897.28,975.05 L898.31,974.89 L899.34,974.73 L900.38,974.58 L901.41,974.44 L902.44,974.30 L903.47,974.17 L904.50,974.05 L905.53,973.93 L906.56,973.82 L907.59,973.72 L908.62,973.63 L909.66,973.54 L910.69,973.46 L911.72,973.38 L912.75,973.32 L913.78,973.26 L914.81,973.21 L915.84,973.16 L916.88,973.13 L917.90,973.10 L918.92,973.08 L919.95,973.07 L921.00,973.07 L922.08,973.07 L923.17,973.08 L924.28,973.10 L925.38,973.13 L926.47,973.16 L927.56,973.21 L928.66,973.26 L929.75,973.32 L930.84,973.38 L931.94,973.46 L933.03,973.54 L934.12,973.63 L935.22,973.72 L936.31,973.82 L937.41,973.93 L938.50,974.05 L939.59,974.17 L940.69,974.30 L941.78,974.44 L942.88,974.58 L943.97,974.73 L945.06,974.89 L946.16,975.05 L947.25,975.21 L948.34,975.39 L949.44,975.56 L950.53,975.75 L951.62,975.94 L952.72,976.13 L953.81,976.33 L954.91,976.53 L956.00,976.73 L957.09,976.94 L958.19,977.16 L959.28,977.37 L960.38,977.59 L961.47,977.82 L962.56,978.04 L963.66,978.27 L964.75,978.50 L965.84,978.73 L966.94,978.97 L968.03,979.21 L969.12,979.44 L970.28,979.69 L971.48,979.94 L972.59,980.18 L973.50,980.40 L974.12,980.58 L974.53,980.73 L974.86,980.87 L975.22,981.02 L975.66,981.17 L976.09,981.32 L976.52,981.47 L976.95,981.62 L977.38,981.77 L977.81,981.92 L978.24,982.06 L978.68,982.20 L979.11,982.35 L979.54,982.49 L979.97,982.62 L980.40,982.76 L980.83,982.89 L981.26,983.02 L981.69,983.15 L982.12,983.27 L982.56,983.39 L982.99,983.51 L983.42,983.62 L983.85,983.73 L984.28,983.84 L984.71,983.94 L985.14,984.04 L985.58,984.14 L986.01,984.23 L986.44,984.32 L986.87,984.40 L987.30,984.48 L987.73,984.56 L988.16,984.63 L988.59,984.69 L989.03,984.76 L989.46,984.81 L989.89,984.86 L990.32,984.91 L990.75,984.95 L991.18,984.99 L991.61,985.02 L992.04,985.05 L992.47,985.07 L992.95,985.09 L993.45,985.10 L993.89,985.11 L994.20,985.11" fill="none" stroke="#e5553a" stroke-width="2.15" stroke-dasharray="5.3 3.8" stroke-linejoin="round"/>
</g>
<text x="93.60" y="1163.30" font-size="30.5" text-anchor="end" class="b" >-10</text>
<text x="93.60" y="1076.00" font-size="30.5" text-anchor="end" class="b" >-5</text>
<text x="93.60" y="988.70" font-size="30.5" text-anchor="end" class="b" >0</text>
<text x="93.60" y="901.40" font-size="30.5" text-anchor="end" class="b" >5</text>
<text x="93.60" y="814.10" font-size="30.5" text-anchor="end" class="b" >10</text>
<text x="93.60" y="726.80" font-size="30.5" text-anchor="end" class="b" >15</text>
<text x="93.60" y="639.50" font-size="30.5" text-anchor="end" class="b" >20</text>
<text x="105.70" y="1016.00" font-size="30.5" text-anchor="middle" class="b" >0</text>
<text x="283.25" y="1016.00" font-size="30.5" text-anchor="middle" class="b" >100</text>
<text x="460.80" y="1016.00" font-size="30.5" text-anchor="middle" class="b" >200</text>
<text x="638.35" y="1016.00" font-size="30.5" text-anchor="middle" class="b" >300</text>
<text x="815.90" y="1016.00" font-size="30.5" text-anchor="middle" class="b" >400</text>
<text x="993.45" y="1016.00" font-size="30.5" text-anchor="middle" class="b" >500</text>
<text x="596.20" y="1099.20" font-size="31.8" text-anchor="middle" class="b" ><tspan font-style="italic">t</tspan> (s)</text>
<text class="b" transform="translate(32.8,859.6) rotate(-90)" font-size="31.8" text-anchor="middle"><tspan font-style="italic">v</tspan> (m/s)</text>
<line x1="446.00" y1="750.80" x2="517.40" y2="750.80" stroke="#ff0000" stroke-width="2.3" />
<text class="b" x="523.80" y="761.00" font-size="30.5">0°</text>
<line x1="446.00" y1="788.80" x2="517.40" y2="788.80" stroke="#ff00ff" stroke-width="2.4" stroke-dasharray="12 4.5 3.5 4.5"/>
<text class="b" x="523.80" y="799.00" font-size="30.5">30°</text>
<line x1="585.60" y1="750.80" x2="657.00" y2="750.80" stroke="#00ff00" stroke-width="2.3" stroke-dasharray="10.5 8.8"/>
<text class="b" x="663.60" y="761.00" font-size="30.5">10°</text>
<line x1="585.60" y1="788.80" x2="657.00" y2="788.80" stroke="#00ffff" stroke-width="2.4" stroke-dasharray="9.5 4.8 3.5 4.4 3.5 4.4"/>
<text class="b" x="663.60" y="799.00" font-size="30.5">40°</text>
<circle cx="734.90" cy="750.80" r="1.7" fill="#0000ff"/>
<circle cx="746.66" cy="750.80" r="1.7" fill="#0000ff"/>
<circle cx="758.42" cy="750.80" r="1.7" fill="#0000ff"/>
<circle cx="770.18" cy="750.80" r="1.7" fill="#0000ff"/>
<circle cx="781.94" cy="750.80" r="1.7" fill="#0000ff"/>
<circle cx="793.70" cy="750.80" r="1.7" fill="#0000ff"/>
<text class="b" x="810.80" y="761.00" font-size="30.5">20°</text>
<line x1="732.60" y1="788.80" x2="801.60" y2="788.80" stroke="#e5553a" stroke-width="2.4" stroke-dasharray="5.3 3.8"/>
<text class="b" x="810.80" y="799.00" font-size="30.5">90°</text>
<text class="b" transform="translate(512.3,1209.2) scale(0.97,0.985)" font-size="42" text-anchor="middle">(<tspan font-weight="bold">b</tspan>)</text>
</svg></body></html>
